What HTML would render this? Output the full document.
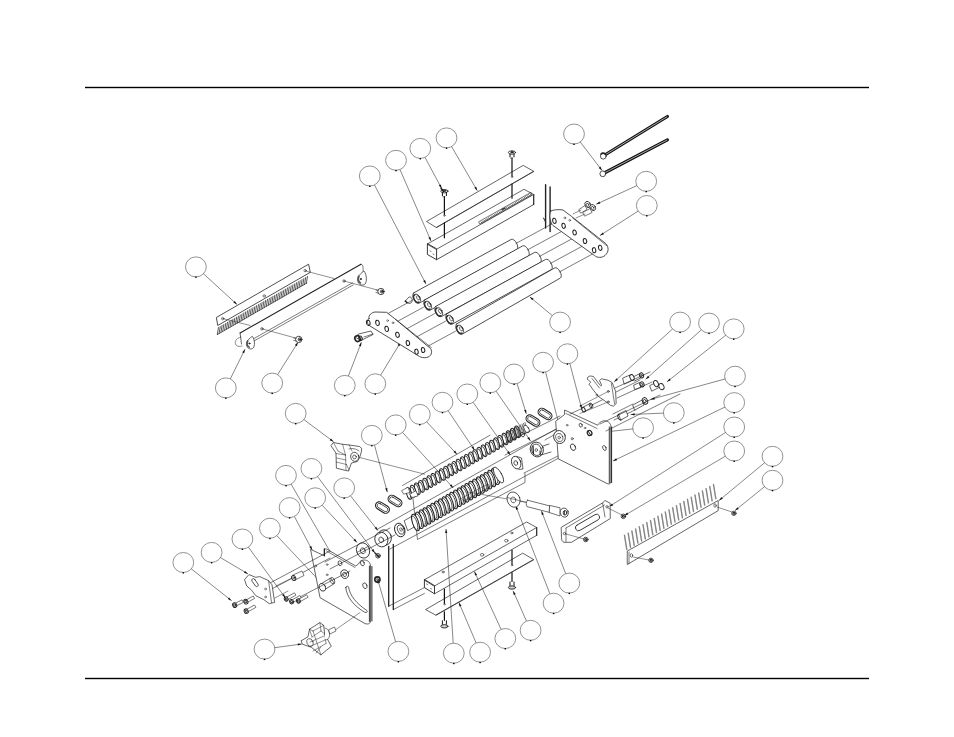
<!DOCTYPE html>
<html><head><meta charset="utf-8"><style>
html,body{margin:0;padding:0;background:#fff;width:954px;height:737px;overflow:hidden;font-family:"Liberation Sans",sans-serif}
svg{position:absolute;left:0;top:0}
.b ellipse{fill:none;stroke:#808080;stroke-width:0.85}
.b .ld{stroke:#555;stroke-width:0.7}
</style></head><body>
<svg width="954" height="737" viewBox="0 0 954 737">
<rect x="85" y="86.8" width="784" height="1.4" fill="#000"/>
<rect x="85" y="677.8" width="784" height="1.4" fill="#000"/>
<g class="b">
<ellipse cx="195.9" cy="266.9" rx="10.4" ry="10.0"/>
<rect x="195.2" y="276.5" width="1.4" height="1.4" fill="#000" stroke="none"/>
<line x1="203.4" y1="273.7" x2="237" y2="304.5" class="ld"/>
<polygon points="237,304.5 233.3,302.6 234.8,301" fill="#111" stroke="none"/>
<ellipse cx="369.8" cy="176" rx="10.4" ry="10.0"/>
<rect x="369.1" y="185.6" width="1.4" height="1.4" fill="#000" stroke="none"/>
<line x1="374.5" y1="185" x2="426" y2="284" class="ld"/>
<polygon points="426,284 423.2,281 425.1,279.9" fill="#111" stroke="none"/>
<ellipse cx="396" cy="160.3" rx="10.4" ry="10.0"/>
<rect x="395.3" y="169.9" width="1.4" height="1.4" fill="#000" stroke="none"/>
<line x1="400" y1="169.6" x2="431" y2="241" class="ld"/>
<polygon points="431,241 428.4,237.8 430.4,236.9" fill="#111" stroke="none"/>
<ellipse cx="420.3" cy="148.4" rx="10.4" ry="10.0"/>
<rect x="419.6" y="158" width="1.4" height="1.4" fill="#000" stroke="none"/>
<line x1="425" y1="157.3" x2="441.7" y2="188.6" class="ld"/>
<polygon points="441.7,188.6 438.8,185.6 440.8,184.6" fill="#111" stroke="none"/>
<ellipse cx="446.5" cy="137.9" rx="10.4" ry="10.0"/>
<rect x="445.8" y="147.5" width="1.4" height="1.4" fill="#000" stroke="none"/>
<line x1="451.6" y1="146.6" x2="477.3" y2="190.7" class="ld"/>
<polygon points="477.3,190.7 474.3,187.8 476.2,186.7" fill="#111" stroke="none"/>
<ellipse cx="574" cy="134" rx="10.4" ry="10.0"/>
<rect x="573.3" y="143.6" width="1.4" height="1.4" fill="#000" stroke="none"/>
<line x1="580.2" y1="142" x2="602" y2="170.4" class="ld"/>
<polygon points="602,170.4 598.7,167.9 600.4,166.6" fill="#111" stroke="none"/>
<ellipse cx="646.2" cy="181.3" rx="10.4" ry="10.0"/>
<rect x="645.5" y="190.9" width="1.4" height="1.4" fill="#000" stroke="none"/>
<line x1="637" y1="185.5" x2="596.2" y2="204.3" class="ld"/>
<polygon points="596.2,204.3 599.4,201.6 600.3,203.6" fill="#111" stroke="none"/>
<ellipse cx="646.8" cy="205.5" rx="10.4" ry="10.0"/>
<rect x="646.1" y="215.1" width="1.4" height="1.4" fill="#000" stroke="none"/>
<line x1="638.3" y1="211" x2="600" y2="235.5" class="ld"/>
<polygon points="600,235.5 602.8,232.4 604,234.3" fill="#111" stroke="none"/>
<ellipse cx="560.1" cy="322.1" rx="10.4" ry="10.0"/>
<rect x="559.4" y="331.7" width="1.4" height="1.4" fill="#000" stroke="none"/>
<line x1="552.3" y1="315.6" x2="529.8" y2="296.9" class="ld"/>
<polygon points="529.8,296.9 533.6,298.6 532.2,300.3" fill="#111" stroke="none"/>
<ellipse cx="225.8" cy="387.9" rx="10.4" ry="10.0"/>
<rect x="225.1" y="397.5" width="1.4" height="1.4" fill="#000" stroke="none"/>
<line x1="230.3" y1="378.9" x2="245" y2="349.2" class="ld"/>
<polygon points="245,349.2 244.2,353.3 242.2,352.3" fill="#111" stroke="none"/>
<ellipse cx="272.2" cy="383.1" rx="10.4" ry="10.0"/>
<rect x="271.5" y="392.7" width="1.4" height="1.4" fill="#000" stroke="none"/>
<line x1="277.6" y1="374.6" x2="298" y2="342.3" class="ld"/>
<polygon points="298,342.3 296.8,346.3 294.9,345.1" fill="#111" stroke="none"/>
<ellipse cx="344.8" cy="385.4" rx="10.4" ry="10.0"/>
<rect x="344.1" y="395" width="1.4" height="1.4" fill="#000" stroke="none"/>
<line x1="348.4" y1="376" x2="361.4" y2="342.3" class="ld"/>
<polygon points="361.4,342.3 361,346.4 358.9,345.6" fill="#111" stroke="none"/>
<ellipse cx="375.3" cy="383.8" rx="10.4" ry="10.0"/>
<rect x="374.6" y="393.4" width="1.4" height="1.4" fill="#000" stroke="none"/>
<line x1="380.6" y1="375.2" x2="400.6" y2="342.3" class="ld"/>
<polygon points="400.6,342.3 399.5,346.3 397.6,345.1" fill="#111" stroke="none"/>
<ellipse cx="680.1" cy="322.1" rx="10.4" ry="10.0"/>
<rect x="679.4" y="331.7" width="1.4" height="1.4" fill="#000" stroke="none"/>
<line x1="672.6" y1="328.9" x2="614.2" y2="381.8" class="ld"/>
<polygon points="614.2,381.8 616.4,378.3 617.9,379.9" fill="#111" stroke="none"/>
<ellipse cx="709" cy="323.1" rx="10.4" ry="10.0"/>
<rect x="708.3" y="332.7" width="1.4" height="1.4" fill="#000" stroke="none"/>
<line x1="701.4" y1="329.8" x2="645.7" y2="379.2" class="ld"/>
<polygon points="645.7,379.2 648,375.7 649.4,377.4" fill="#111" stroke="none"/>
<ellipse cx="733.7" cy="328.9" rx="10.4" ry="10.0"/>
<rect x="733" y="338.5" width="1.4" height="1.4" fill="#000" stroke="none"/>
<line x1="725.8" y1="335.2" x2="667" y2="381.8" class="ld"/>
<polygon points="667,381.8 669.5,378.5 670.8,380.2" fill="#111" stroke="none"/>
<ellipse cx="567.4" cy="353.8" rx="10.4" ry="10.0"/>
<rect x="566.7" y="363.4" width="1.4" height="1.4" fill="#000" stroke="none"/>
<line x1="569.9" y1="363.6" x2="581.7" y2="408.8" class="ld"/>
<polygon points="581.7,408.8 579.6,405.2 581.8,404.7" fill="#111" stroke="none"/>
<ellipse cx="543.1" cy="362.3" rx="10.4" ry="10.0"/>
<rect x="542.4" y="371.9" width="1.4" height="1.4" fill="#000" stroke="none"/>
<line x1="545.6" y1="372.1" x2="559.9" y2="428" class="ld"/>
<polygon points="559.9,428 557.8,424.4 560,423.9" fill="#111" stroke="none"/>
<ellipse cx="735" cy="376.2" rx="10.4" ry="10.0"/>
<rect x="734.3" y="385.8" width="1.4" height="1.4" fill="#000" stroke="none"/>
<line x1="725.3" y1="378.9" x2="650.7" y2="399.4" class="ld"/>
<polygon points="650.7,399.4 654.3,397.3 654.8,399.4" fill="#111" stroke="none"/>
<ellipse cx="734.2" cy="402.6" rx="10.4" ry="10.0"/>
<rect x="733.5" y="412.2" width="1.4" height="1.4" fill="#000" stroke="none"/>
<line x1="725.1" y1="407" x2="613" y2="461" class="ld"/>
<polygon points="613,461 616.1,458.3 617.1,460.3" fill="#111" stroke="none"/>
<ellipse cx="673.8" cy="412.7" rx="10.4" ry="10.0"/>
<rect x="673.1" y="422.3" width="1.4" height="1.4" fill="#000" stroke="none"/>
<line x1="663.7" y1="413.1" x2="630.6" y2="414.5" class="ld"/>
<polygon points="630.6,414.5 634.6,413.2 634.6,415.4" fill="#111" stroke="none"/>
<ellipse cx="734.2" cy="427" rx="10.4" ry="10.0"/>
<rect x="733.5" y="436.6" width="1.4" height="1.4" fill="#000" stroke="none"/>
<line x1="725.7" y1="432.4" x2="609.2" y2="506.6" class="ld"/>
<polygon points="609.2,506.6 612,503.5 613.2,505.4" fill="#111" stroke="none"/>
<ellipse cx="643.1" cy="427.8" rx="10.4" ry="10.0"/>
<rect x="642.4" y="437.4" width="1.4" height="1.4" fill="#000" stroke="none"/>
<line x1="633.1" y1="428.9" x2="592.8" y2="433.3" class="ld"/>
<polygon points="592.8,433.3 596.7,431.8 596.9,434" fill="#111" stroke="none"/>
<ellipse cx="734.2" cy="451" rx="10.4" ry="10.0"/>
<rect x="733.5" y="460.6" width="1.4" height="1.4" fill="#000" stroke="none"/>
<line x1="725.5" y1="456.1" x2="624.3" y2="515.6" class="ld"/>
<polygon points="624.3,515.6 627.2,512.6 628.3,514.5" fill="#111" stroke="none"/>
<ellipse cx="772.5" cy="456.3" rx="10.4" ry="10.0"/>
<rect x="771.8" y="465.9" width="1.4" height="1.4" fill="#000" stroke="none"/>
<line x1="764.7" y1="462.7" x2="719" y2="500.5" class="ld"/>
<polygon points="719,500.5 721.4,497.1 722.8,498.8" fill="#111" stroke="none"/>
<ellipse cx="772.5" cy="480.3" rx="10.4" ry="10.0"/>
<rect x="771.8" y="489.9" width="1.4" height="1.4" fill="#000" stroke="none"/>
<line x1="764.6" y1="486.6" x2="735" y2="510.6" class="ld"/>
<polygon points="735,510.6 737.4,507.2 738.8,508.9" fill="#111" stroke="none"/>
<ellipse cx="295.7" cy="413.4" rx="10.4" ry="10.0"/>
<rect x="295" y="423" width="1.4" height="1.4" fill="#000" stroke="none"/>
<line x1="303.8" y1="419.5" x2="333.5" y2="441.7" class="ld"/>
<polygon points="333.5,441.7 329.6,440.2 331,438.4" fill="#111" stroke="none"/>
<ellipse cx="371.8" cy="435.4" rx="10.4" ry="10.0"/>
<rect x="371.1" y="445" width="1.4" height="1.4" fill="#000" stroke="none"/>
<line x1="374.5" y1="445.1" x2="387.3" y2="492.2" class="ld"/>
<polygon points="387.3,492.2 385.2,488.6 387.3,488.1" fill="#111" stroke="none"/>
<ellipse cx="395.7" cy="424.9" rx="10.4" ry="10.0"/>
<rect x="395" y="434.5" width="1.4" height="1.4" fill="#000" stroke="none"/>
<line x1="402.5" y1="432.4" x2="453.3" y2="488" class="ld"/>
<polygon points="453.3,488 449.8,485.8 451.4,484.3" fill="#111" stroke="none"/>
<ellipse cx="419.8" cy="414.4" rx="10.4" ry="10.0"/>
<rect x="419.1" y="424" width="1.4" height="1.4" fill="#000" stroke="none"/>
<line x1="426.7" y1="421.8" x2="457" y2="454.3" class="ld"/>
<polygon points="457,454.3 453.5,452.1 455.1,450.6" fill="#111" stroke="none"/>
<ellipse cx="442.5" cy="402.3" rx="10.4" ry="10.0"/>
<rect x="441.8" y="411.9" width="1.4" height="1.4" fill="#000" stroke="none"/>
<line x1="448.1" y1="410.7" x2="474.6" y2="450.2" class="ld"/>
<polygon points="474.6,450.2 471.5,447.5 473.3,446.3" fill="#111" stroke="none"/>
<ellipse cx="467.3" cy="394" rx="10.4" ry="10.0"/>
<rect x="466.6" y="403.6" width="1.4" height="1.4" fill="#000" stroke="none"/>
<line x1="473.1" y1="402.3" x2="510.3" y2="455" class="ld"/>
<polygon points="510.3,455 507.1,452.4 508.9,451.1" fill="#111" stroke="none"/>
<ellipse cx="490.3" cy="382.8" rx="10.4" ry="10.0"/>
<rect x="489.6" y="392.4" width="1.4" height="1.4" fill="#000" stroke="none"/>
<line x1="496" y1="391.1" x2="530.5" y2="440.9" class="ld"/>
<polygon points="530.5,440.9 527.3,438.2 529.1,437" fill="#111" stroke="none"/>
<ellipse cx="514.1" cy="374" rx="10.4" ry="10.0"/>
<rect x="513.4" y="383.6" width="1.4" height="1.4" fill="#000" stroke="none"/>
<line x1="517.1" y1="383.7" x2="526.3" y2="413.8" class="ld"/>
<polygon points="526.3,413.8 524.1,410.3 526.2,409.7" fill="#111" stroke="none"/>
<ellipse cx="311.4" cy="468.5" rx="10.4" ry="10.0"/>
<rect x="310.7" y="478.1" width="1.4" height="1.4" fill="#000" stroke="none"/>
<line x1="317.5" y1="476.6" x2="374.9" y2="553" class="ld"/>
<polygon points="374.9,553 371.6,550.5 373.4,549.1" fill="#111" stroke="none"/>
<ellipse cx="286" cy="475.4" rx="10.4" ry="10.0"/>
<rect x="285.3" y="485" width="1.4" height="1.4" fill="#000" stroke="none"/>
<line x1="291.1" y1="484.1" x2="342.1" y2="572.4" class="ld"/>
<polygon points="342.1,572.4 339.1,569.5 341,568.4" fill="#111" stroke="none"/>
<ellipse cx="315.2" cy="497.8" rx="10.4" ry="10.0"/>
<rect x="314.5" y="507.4" width="1.4" height="1.4" fill="#000" stroke="none"/>
<line x1="322.1" y1="505.2" x2="357" y2="542.5" class="ld"/>
<polygon points="357,542.5 353.5,540.3 355.1,538.8" fill="#111" stroke="none"/>
<ellipse cx="344.2" cy="487.9" rx="10.4" ry="10.0"/>
<rect x="343.5" y="497.5" width="1.4" height="1.4" fill="#000" stroke="none"/>
<line x1="350.5" y1="495.8" x2="377.9" y2="530.6" class="ld"/>
<polygon points="377.9,530.6 374.6,528.1 376.3,526.8" fill="#111" stroke="none"/>
<ellipse cx="289.6" cy="507.6" rx="10.4" ry="10.0"/>
<rect x="288.9" y="517.2" width="1.4" height="1.4" fill="#000" stroke="none"/>
<line x1="294.4" y1="516.5" x2="312.2" y2="550" class="ld"/>
<polygon points="312.2,550 309.3,547 311.3,546" fill="#111" stroke="none"/>
<ellipse cx="269.9" cy="528.2" rx="10.4" ry="10.0"/>
<rect x="269.2" y="537.8" width="1.4" height="1.4" fill="#000" stroke="none"/>
<line x1="276.8" y1="535.6" x2="321.2" y2="582.8" class="ld"/>
<polygon points="321.2,582.8 317.7,580.6 319.3,579.1" fill="#111" stroke="none"/>
<ellipse cx="242.4" cy="539" rx="10.4" ry="10.0"/>
<rect x="241.7" y="548.6" width="1.4" height="1.4" fill="#000" stroke="none"/>
<line x1="248.4" y1="547.2" x2="285.4" y2="597.8" class="ld"/>
<polygon points="285.4,597.8 282.2,595.2 283.9,593.9" fill="#111" stroke="none"/>
<ellipse cx="211.6" cy="552.4" rx="10.4" ry="10.0"/>
<rect x="210.9" y="562" width="1.4" height="1.4" fill="#000" stroke="none"/>
<line x1="220.3" y1="557.5" x2="248" y2="573.9" class="ld"/>
<polygon points="248,573.9 244,572.8 245.1,570.9" fill="#111" stroke="none"/>
<ellipse cx="183.3" cy="562.5" rx="10.4" ry="10.0"/>
<rect x="182.6" y="572.1" width="1.4" height="1.4" fill="#000" stroke="none"/>
<line x1="191.2" y1="568.8" x2="231.6" y2="600.7" class="ld"/>
<polygon points="231.6,600.7 227.8,599.1 229.1,597.4" fill="#111" stroke="none"/>
<ellipse cx="264.5" cy="649.1" rx="10.4" ry="10.0"/>
<rect x="263.8" y="658.7" width="1.4" height="1.4" fill="#000" stroke="none"/>
<line x1="274.5" y1="647.7" x2="301.8" y2="644" class="ld"/>
<polygon points="301.8,644 298,645.6 297.7,643.5" fill="#111" stroke="none"/>
<ellipse cx="398.4" cy="651.4" rx="10.4" ry="10.0"/>
<rect x="397.7" y="661" width="1.4" height="1.4" fill="#000" stroke="none"/>
<line x1="395.6" y1="641.7" x2="377.7" y2="579.3" class="ld"/>
<polygon points="377.7,579.3 379.9,582.8 377.7,583.4" fill="#111" stroke="none"/>
<ellipse cx="453.8" cy="653.2" rx="10.4" ry="10.0"/>
<rect x="453.1" y="662.8" width="1.4" height="1.4" fill="#000" stroke="none"/>
<line x1="453.2" y1="643.1" x2="446" y2="529" class="ld"/>
<polygon points="446,529 447.3,532.9 445.2,533.1" fill="#111" stroke="none"/>
<ellipse cx="480.1" cy="652.2" rx="10.4" ry="10.0"/>
<rect x="479.4" y="661.8" width="1.4" height="1.4" fill="#000" stroke="none"/>
<line x1="476.1" y1="642.9" x2="458.9" y2="602.5" class="ld"/>
<polygon points="458.9,602.5 461.5,605.7 459.5,606.6" fill="#111" stroke="none"/>
<ellipse cx="505.3" cy="638.5" rx="10.4" ry="10.0"/>
<rect x="504.6" y="648.1" width="1.4" height="1.4" fill="#000" stroke="none"/>
<line x1="501.1" y1="629.3" x2="474.4" y2="571.5" class="ld"/>
<polygon points="474.4,571.5 477.1,574.7 475.1,575.6" fill="#111" stroke="none"/>
<ellipse cx="530.6" cy="630.3" rx="10.4" ry="10.0"/>
<rect x="529.9" y="639.9" width="1.4" height="1.4" fill="#000" stroke="none"/>
<line x1="526.5" y1="621.1" x2="513.1" y2="590.9" class="ld"/>
<polygon points="513.1,590.9 515.7,594.1 513.7,595" fill="#111" stroke="none"/>
<ellipse cx="553.6" cy="603.2" rx="10.4" ry="10.0"/>
<rect x="552.9" y="612.8" width="1.4" height="1.4" fill="#000" stroke="none"/>
<line x1="549.9" y1="593.8" x2="515.7" y2="505.8" class="ld"/>
<polygon points="515.7,505.8 518.2,509.1 516.1,509.9" fill="#111" stroke="none"/>
<ellipse cx="569.3" cy="583.1" rx="10.4" ry="10.0"/>
<rect x="568.6" y="592.7" width="1.4" height="1.4" fill="#000" stroke="none"/>
<line x1="565.7" y1="573.7" x2="541.4" y2="510.9" class="ld"/>
<polygon points="541.4,510.9 543.9,514.2 541.8,515" fill="#111" stroke="none"/>
</g>
<g fill="none" stroke="#222" stroke-width="0.8" stroke-linejoin="round" stroke-linecap="round">
<polygon points="216.7,317.3 308.6,264.2 310.3,272.3 218.1,325.3"/>
<line x1="218.5" y1="327.5" x2="217.3" y2="334.5" stroke-width="0.75"/>
<line x1="220.3" y1="326.5" x2="219.1" y2="333.5" stroke-width="0.75"/>
<line x1="222.1" y1="325.4" x2="220.9" y2="332.4" stroke-width="0.75"/>
<line x1="223.9" y1="324.4" x2="222.7" y2="331.4" stroke-width="0.75"/>
<line x1="225.8" y1="323.3" x2="224.6" y2="330.3" stroke-width="0.75"/>
<line x1="227.6" y1="322.3" x2="226.4" y2="329.3" stroke-width="0.75"/>
<line x1="229.4" y1="321.3" x2="228.2" y2="328.3" stroke-width="0.75"/>
<line x1="231.2" y1="320.2" x2="230.0" y2="327.2" stroke-width="0.75"/>
<line x1="233.0" y1="319.2" x2="231.8" y2="326.2" stroke-width="0.75"/>
<line x1="234.8" y1="318.1" x2="233.6" y2="325.1" stroke-width="0.75"/>
<line x1="236.7" y1="317.1" x2="235.5" y2="324.1" stroke-width="0.75"/>
<line x1="238.5" y1="316.1" x2="237.3" y2="323.1" stroke-width="0.75"/>
<line x1="240.3" y1="315.0" x2="239.1" y2="322.0" stroke-width="0.75"/>
<line x1="242.1" y1="314.0" x2="240.9" y2="321.0" stroke-width="0.75"/>
<line x1="243.9" y1="312.9" x2="242.7" y2="319.9" stroke-width="0.75"/>
<line x1="245.7" y1="311.9" x2="244.5" y2="318.9" stroke-width="0.75"/>
<line x1="247.6" y1="310.8" x2="246.4" y2="317.8" stroke-width="0.75"/>
<line x1="249.4" y1="309.8" x2="248.2" y2="316.8" stroke-width="0.75"/>
<line x1="251.2" y1="308.8" x2="250.0" y2="315.8" stroke-width="0.75"/>
<line x1="253.0" y1="307.7" x2="251.8" y2="314.7" stroke-width="0.75"/>
<line x1="254.8" y1="306.7" x2="253.6" y2="313.7" stroke-width="0.75"/>
<line x1="256.6" y1="305.6" x2="255.4" y2="312.6" stroke-width="0.75"/>
<line x1="258.5" y1="304.6" x2="257.3" y2="311.6" stroke-width="0.75"/>
<line x1="260.3" y1="303.6" x2="259.1" y2="310.6" stroke-width="0.75"/>
<line x1="262.1" y1="302.5" x2="260.9" y2="309.5" stroke-width="0.75"/>
<line x1="263.9" y1="301.5" x2="262.7" y2="308.5" stroke-width="0.75"/>
<line x1="265.7" y1="300.4" x2="264.5" y2="307.4" stroke-width="0.75"/>
<line x1="267.5" y1="299.4" x2="266.3" y2="306.4" stroke-width="0.75"/>
<line x1="269.4" y1="298.4" x2="268.2" y2="305.4" stroke-width="0.75"/>
<line x1="271.2" y1="297.3" x2="270.0" y2="304.3" stroke-width="0.75"/>
<line x1="273.0" y1="296.3" x2="271.8" y2="303.3" stroke-width="0.75"/>
<line x1="274.8" y1="295.2" x2="273.6" y2="302.2" stroke-width="0.75"/>
<line x1="276.6" y1="294.2" x2="275.4" y2="301.2" stroke-width="0.75"/>
<line x1="278.4" y1="293.2" x2="277.2" y2="300.2" stroke-width="0.75"/>
<line x1="280.3" y1="292.1" x2="279.1" y2="299.1" stroke-width="0.75"/>
<line x1="282.1" y1="291.1" x2="280.9" y2="298.1" stroke-width="0.75"/>
<line x1="283.9" y1="290.0" x2="282.7" y2="297.0" stroke-width="0.75"/>
<line x1="285.7" y1="289.0" x2="284.5" y2="296.0" stroke-width="0.75"/>
<line x1="287.5" y1="287.9" x2="286.3" y2="294.9" stroke-width="0.75"/>
<line x1="289.3" y1="286.9" x2="288.1" y2="293.9" stroke-width="0.75"/>
<line x1="291.2" y1="285.9" x2="290.0" y2="292.9" stroke-width="0.75"/>
<line x1="293.0" y1="284.8" x2="291.8" y2="291.8" stroke-width="0.75"/>
<line x1="294.8" y1="283.8" x2="293.6" y2="290.8" stroke-width="0.75"/>
<line x1="296.6" y1="282.7" x2="295.4" y2="289.7" stroke-width="0.75"/>
<line x1="298.4" y1="281.7" x2="297.2" y2="288.7" stroke-width="0.75"/>
<line x1="300.2" y1="280.7" x2="299.0" y2="287.7" stroke-width="0.75"/>
<line x1="302.1" y1="279.6" x2="300.9" y2="286.6" stroke-width="0.75"/>
<line x1="303.9" y1="278.6" x2="302.7" y2="285.6" stroke-width="0.75"/>
<line x1="305.7" y1="277.5" x2="304.5" y2="284.5" stroke-width="0.75"/>
<line x1="307.5" y1="276.5" x2="306.3" y2="283.5" stroke-width="0.75"/>
<line x1="217.5" y1="334.5" x2="306.9" y2="283.0" stroke-width="0.6"/>
<circle cx="222.7" cy="318.6" r="1.2" stroke-width="0.6"/>
<circle cx="264.2" cy="295.9" r="1.2" stroke-width="0.6"/>
<circle cx="305.1" cy="270.6" r="1.2" stroke-width="0.6"/>
<line x1="240.1" y1="333.0" x2="361.0" y2="264.3" stroke-width="1.1"/>
<path d="M361,264.3 C362.5,264.5 363,265.5 363,267.5 L363.2,272" stroke-width="0.6"/>
<line x1="240.1" y1="333.0" x2="241.5" y2="344.0" stroke-width="0.7"/>
<line x1="253.8" y1="338.6" x2="352.4" y2="282.9" stroke-width="0.6"/>
<line x1="254.3" y1="340.8" x2="353.3" y2="284.9" stroke-width="0.6"/>
<path d="M247.3,340.8 C249.6,338.1 252.3,336.3 252.3,336.3 C255.0,339.9 255.0,346.2 253.2,348.0 C251.4,349.8 247.8,348.9 246.9,346.2 C246.0,344.4 246.4,341.7 247.3,340.8 Z" fill="#fff" stroke-width="0.7"/>
<path d="M247.8,341.2 C246.4,343.5 247.3,346.2 249.2,347.1" stroke-width="1.6" stroke="#555"/>
<circle cx="249.4" cy="343.5" r="0.6" fill="#000"/>
<path d="M358.5,276.0 C361.0,273.0 364.0,271.0 364.0,271.0 C367.0,275.0 367.0,282.0 365.0,284.0 C363.0,286.0 359.0,285.0 358.0,282.0 C357.0,280.0 357.5,277.0 358.5,276.0 Z" fill="#fff" stroke-width="0.7"/>
<path d="M359.0,276.5 C357.5,279.0 358.5,282.0 360.5,283.0" stroke-width="1.6" stroke="#555"/>
<circle cx="360.8" cy="279.0" r="0.6" fill="#000"/>
<path d="M241,337 C236,338 234,342 236,345 C238,347 240,346.5 242,346" stroke-width="0.5"/>
<circle cx="261.9" cy="328.8" r="1.2" stroke-width="0.6"/>
<circle cx="344.0" cy="281.0" r="1.2" stroke-width="0.6"/>
<line x1="261.9" y1="328.8" x2="298.8" y2="338.9" stroke-width="0.5"/>
<line x1="344.0" y1="281.0" x2="381.0" y2="291.0" stroke-width="0.5"/>
<line x1="305.5" y1="271.0" x2="334.0" y2="278.5" stroke-width="0.5"/>
<line x1="222.7" y1="318.6" x2="250.0" y2="325.4" stroke-width="0.5"/>
<circle cx="298.8" cy="339.4" r="3.2" stroke-width="0.8" fill="#fff"/>
<circle cx="299.7" cy="339.4" r="1.5" stroke-width="0.9"/>
<circle cx="299.9" cy="339.4" r="0.6" stroke-width="0.6" fill="#000"/>
<line x1="295.8" y1="338.4" x2="293.8" y2="337.9" stroke-width="0.6"/>
<line x1="295.8" y1="340.9" x2="293.8" y2="340.4" stroke-width="0.6"/>
<circle cx="381.0" cy="291.5" r="3.2" stroke-width="0.8" fill="#fff"/>
<circle cx="381.9" cy="291.5" r="1.5" stroke-width="0.9"/>
<circle cx="382.1" cy="291.5" r="0.6" stroke-width="0.6" fill="#000"/>
<line x1="378.0" y1="290.5" x2="376.0" y2="290.0" stroke-width="0.6"/>
<line x1="378.0" y1="293.0" x2="376.0" y2="292.5" stroke-width="0.6"/>
<polygon points="426.9,221.3 523.2,165.4 533.7,171.3 436.6,227.3" stroke-width="0.7"/>
<line x1="436.6" y1="227.5" x2="533.7" y2="171.5" stroke-width="0.8" stroke="#333"/>
<ellipse cx="444.4" cy="191.2" rx="3.6" ry="1.7" transform="rotate(0.0 444.4 191.2)" stroke-width="0.9" fill="#fff"/>
<ellipse cx="444.4" cy="190.9" rx="1.3" ry="0.7" transform="rotate(0.0 444.4 190.9)" stroke-width="0.8" fill="#222"/>
<line x1="442.4" y1="192.8" x2="442.4" y2="195.6" stroke-width="1.0" stroke="#111"/>
<line x1="446.4" y1="192.8" x2="446.4" y2="195.6" stroke-width="1.0" stroke="#111"/>
<line x1="442.8" y1="196.7" x2="444.9" y2="196.7" stroke-width="0.6"/>
<line x1="444.4" y1="196.7" x2="444.4" y2="214.6" stroke-width="1.2" stroke="#111"/>
<line x1="444.4" y1="222.8" x2="444.4" y2="237.8" stroke-width="1.2" stroke="#111"/>
<circle cx="444.4" cy="215.6" r="0.8" stroke-width="0.5"/>
<ellipse cx="512.0" cy="152.5" rx="3.6" ry="1.7" transform="rotate(0.0 512.0 152.5)" stroke-width="0.9" fill="#fff"/>
<ellipse cx="512.0" cy="152.2" rx="1.3" ry="0.7" transform="rotate(0.0 512.0 152.2)" stroke-width="0.8" fill="#222"/>
<line x1="510.0" y1="154.1" x2="510.0" y2="156.9" stroke-width="1.0" stroke="#111"/>
<line x1="514.0" y1="154.1" x2="514.0" y2="156.9" stroke-width="1.0" stroke="#111"/>
<line x1="510.4" y1="158.0" x2="512.5" y2="158.0" stroke-width="0.6"/>
<line x1="512.0" y1="158.0" x2="512.0" y2="175.8" stroke-width="1.2" stroke="#111"/>
<line x1="512.0" y1="184.0" x2="512.0" y2="198.2" stroke-width="1.2" stroke="#111"/>
<circle cx="512.0" cy="176.8" r="0.8" stroke-width="0.5"/>
<line x1="441.2" y1="188.4" x2="443.5" y2="191.5" stroke-width="1.6"/>
<polygon points="427.4,244.0 524.0,189.3 533.7,194.5 436.6,249.2" stroke-width="0.7"/>
<polygon points="427.4,244.0 427.4,254.5 436.6,259.7 436.6,249.2" stroke-width="0.9"/>
<line x1="436.6" y1="259.7" x2="533.7" y2="204.5" stroke-width="0.8"/>
<line x1="533.7" y1="194.5" x2="533.7" y2="204.5" stroke-width="1.2"/>
<line x1="430.0" y1="251.0" x2="431.0" y2="251.5" stroke-width="0.6"/>
<line x1="433.0" y1="254.0" x2="434.0" y2="254.5" stroke-width="0.6"/>
<polygon points="479.0,221.6 531.0,192.3 532.0,194.6 480.0,223.8" stroke-width="0.6"/>
<line x1="481.0" y1="221.8" x2="482.2" y2="223.4" stroke-width="0.6"/>
<line x1="482.5" y1="220.9" x2="483.7" y2="222.5" stroke-width="0.6"/>
<line x1="484.0" y1="220.1" x2="485.2" y2="221.7" stroke-width="0.6"/>
<line x1="485.5" y1="219.2" x2="486.7" y2="220.8" stroke-width="0.6"/>
<line x1="486.9" y1="218.4" x2="488.1" y2="220.0" stroke-width="0.6"/>
<line x1="488.4" y1="217.5" x2="489.6" y2="219.1" stroke-width="0.6"/>
<line x1="489.9" y1="216.7" x2="491.1" y2="218.3" stroke-width="0.6"/>
<line x1="491.4" y1="215.8" x2="492.6" y2="217.4" stroke-width="0.6"/>
<line x1="492.9" y1="215.0" x2="494.1" y2="216.6" stroke-width="0.6"/>
<line x1="494.4" y1="214.1" x2="495.6" y2="215.7" stroke-width="0.6"/>
<line x1="495.8" y1="213.3" x2="497.0" y2="214.9" stroke-width="0.6"/>
<line x1="497.3" y1="212.4" x2="498.5" y2="214.0" stroke-width="0.6"/>
<line x1="498.8" y1="211.5" x2="500.0" y2="213.1" stroke-width="0.6"/>
<line x1="500.3" y1="210.7" x2="501.5" y2="212.3" stroke-width="0.6"/>
<line x1="501.8" y1="209.8" x2="503.0" y2="211.4" stroke-width="0.6"/>
<line x1="503.3" y1="209.0" x2="504.5" y2="210.6" stroke-width="0.6"/>
<line x1="504.8" y1="208.1" x2="506.0" y2="209.7" stroke-width="0.6"/>
<line x1="506.2" y1="207.3" x2="507.4" y2="208.9" stroke-width="0.6"/>
<line x1="507.7" y1="206.4" x2="508.9" y2="208.0" stroke-width="0.6"/>
<line x1="509.2" y1="205.6" x2="510.4" y2="207.2" stroke-width="0.6"/>
<line x1="510.7" y1="204.7" x2="511.9" y2="206.3" stroke-width="0.6"/>
<line x1="512.2" y1="203.9" x2="513.4" y2="205.5" stroke-width="0.6"/>
<line x1="513.7" y1="203.0" x2="514.9" y2="204.6" stroke-width="0.6"/>
<line x1="515.2" y1="202.1" x2="516.4" y2="203.7" stroke-width="0.6"/>
<line x1="516.6" y1="201.3" x2="517.8" y2="202.9" stroke-width="0.6"/>
<line x1="518.1" y1="200.4" x2="519.3" y2="202.0" stroke-width="0.6"/>
<line x1="519.6" y1="199.6" x2="520.8" y2="201.2" stroke-width="0.6"/>
<line x1="521.1" y1="198.7" x2="522.3" y2="200.3" stroke-width="0.6"/>
<line x1="522.6" y1="197.9" x2="523.8" y2="199.5" stroke-width="0.6"/>
<line x1="524.1" y1="197.0" x2="525.3" y2="198.6" stroke-width="0.6"/>
<line x1="525.5" y1="196.2" x2="526.7" y2="197.8" stroke-width="0.6"/>
<line x1="527.0" y1="195.3" x2="528.2" y2="196.9" stroke-width="0.6"/>
<line x1="528.5" y1="194.5" x2="529.7" y2="196.1" stroke-width="0.6"/>
<line x1="530.0" y1="193.6" x2="531.2" y2="195.2" stroke-width="0.6"/>
<line x1="502.0" y1="209.5" x2="505.0" y2="208.0" stroke-width="1.2"/>
<line x1="545.6" y1="184.8" x2="545.6" y2="228.0" stroke-width="1.4"/>
<line x1="550.1" y1="187.0" x2="550.1" y2="231.5" stroke-width="1.4"/>
<line x1="543.5" y1="218.0" x2="545.6" y2="222.0" stroke-width="1.0"/>
<path d="M413.7,292.9 L511.2,239.4 A5.8,2.9 61.5 0 1 516.8,249.6 L419.3,303.1 A5.8,2.9 61.5 0 1 413.7,292.9 Z" fill="#fff"/>
<ellipse cx="417.1" cy="298.3" rx="3.0" ry="4.6" transform="rotate(-28.5 417.1 298.3)" stroke-width="0.7"/>
<path d="M0,-4.3 A2.8,4.3 0 0 0 0,4.3" transform="translate(416.8 298.5) rotate(-28.5)" stroke-width="1.5" stroke="#333"/>
<ellipse cx="418.1" cy="297.8" rx="1.3" ry="2.4" transform="rotate(-28.5 418.1 297.8)" stroke-width="0.6"/>
<path d="M424.7,299.9 L522.7,245.9 A5.8,2.9 61.5 0 1 528.3,256.1 L430.3,310.1 A5.8,2.9 61.5 0 1 424.7,299.9 Z" fill="#fff"/>
<ellipse cx="428.1" cy="305.3" rx="3.0" ry="4.6" transform="rotate(-28.5 428.1 305.3)" stroke-width="0.7"/>
<path d="M0,-4.3 A2.8,4.3 0 0 0 0,4.3" transform="translate(427.8 305.5) rotate(-28.5)" stroke-width="1.5" stroke="#333"/>
<ellipse cx="429.1" cy="304.8" rx="1.3" ry="2.4" transform="rotate(-28.5 429.1 304.8)" stroke-width="0.6"/>
<path d="M435.7,306.4 L534.7,252.4 A5.8,2.9 61.5 0 1 540.3,262.6 L441.3,316.6 A5.8,2.9 61.5 0 1 435.7,306.4 Z" fill="#fff"/>
<ellipse cx="439.1" cy="311.8" rx="3.0" ry="4.6" transform="rotate(-28.5 439.1 311.8)" stroke-width="0.7"/>
<path d="M0,-4.3 A2.8,4.3 0 0 0 0,4.3" transform="translate(438.8 312.0) rotate(-28.5)" stroke-width="1.5" stroke="#333"/>
<ellipse cx="440.1" cy="311.3" rx="1.3" ry="2.4" transform="rotate(-28.5 440.1 311.3)" stroke-width="0.6"/>
<path d="M446.7,313.9 L545.7,259.4 A5.8,2.9 61.5 0 1 551.3,269.6 L452.3,324.1 A5.8,2.9 61.5 0 1 446.7,313.9 Z" fill="#fff"/>
<ellipse cx="450.1" cy="319.3" rx="3.0" ry="4.6" transform="rotate(-28.5 450.1 319.3)" stroke-width="0.7"/>
<path d="M0,-4.3 A2.8,4.3 0 0 0 0,4.3" transform="translate(449.8 319.5) rotate(-28.5)" stroke-width="1.5" stroke="#333"/>
<ellipse cx="451.1" cy="318.8" rx="1.3" ry="2.4" transform="rotate(-28.5 451.1 318.8)" stroke-width="0.6"/>
<path d="M456.7,323.9 L554.7,267.9 A5.8,2.9 61.5 0 1 560.3,278.1 L462.3,334.1 A5.8,2.9 61.5 0 1 456.7,323.9 Z" fill="#fff"/>
<ellipse cx="460.1" cy="329.3" rx="3.0" ry="4.6" transform="rotate(-28.5 460.1 329.3)" stroke-width="0.7"/>
<path d="M0,-4.3 A2.8,4.3 0 0 0 0,4.3" transform="translate(459.8 329.5) rotate(-28.5)" stroke-width="1.5" stroke="#333"/>
<ellipse cx="461.1" cy="328.8" rx="1.3" ry="2.4" transform="rotate(-28.5 461.1 328.8)" stroke-width="0.6"/>
<path d="M405.3,301 L409,297 C411.5,296.5 412.5,299 412,301.5 C411.5,303.5 409,304 407.5,303 Z" fill="#fff" stroke-width="0.7"/>
<line x1="405.3" y1="301.0" x2="407.0" y2="302.5" stroke-width="1.4"/>
<line x1="412.5" y1="300.2" x2="376.5" y2="319.8" stroke-width="0.6"/>
<line x1="516.0" y1="243.4" x2="554.0" y2="222.8" stroke-width="0.6"/>
<line x1="423.5" y1="307.2" x2="387.5" y2="326.8" stroke-width="0.6"/>
<line x1="527.5" y1="249.9" x2="565.5" y2="229.3" stroke-width="0.6"/>
<line x1="434.5" y1="313.7" x2="398.5" y2="333.3" stroke-width="0.6"/>
<line x1="539.5" y1="256.4" x2="577.5" y2="235.8" stroke-width="0.6"/>
<line x1="445.5" y1="321.2" x2="409.5" y2="340.8" stroke-width="0.6"/>
<line x1="550.5" y1="263.4" x2="588.5" y2="242.8" stroke-width="0.6"/>
<line x1="455.5" y1="331.2" x2="419.5" y2="350.8" stroke-width="0.6"/>
<line x1="559.5" y1="271.9" x2="597.5" y2="251.3" stroke-width="0.6"/>
<path d="M369,318.5 C368,315 372,312.5 375,312 L386.5,312.3 L394.3,318.3 L430.5,348.5 C433,352 431,357 426.5,357.5 C424,358 421,357.5 419.5,356.5 L370,326 C367,324 366.5,321 369,318.5 Z" fill="#fff"/>
<line x1="395.5" y1="319.3" x2="431.4" y2="347.6" stroke-width="0.6"/>
<ellipse cx="368.3" cy="322.9" rx="1.8" ry="2.6" transform="rotate(-10.0 368.3 322.9)" stroke-width="1.0"/>
<ellipse cx="377.5" cy="322.9" rx="1.8" ry="2.6" transform="rotate(-10.0 377.5 322.9)" stroke-width="1.0"/>
<ellipse cx="386.7" cy="328.9" rx="1.8" ry="2.6" transform="rotate(-10.0 386.7 328.9)" stroke-width="1.0"/>
<ellipse cx="397.5" cy="334.8" rx="1.8" ry="2.6" transform="rotate(-10.0 397.5 334.8)" stroke-width="1.0"/>
<ellipse cx="407.9" cy="343.0" rx="1.7" ry="2.6" transform="rotate(-10.0 407.9 343.0)" stroke-width="1.0"/>
<ellipse cx="416.5" cy="351.7" rx="1.7" ry="2.6" transform="rotate(-10.0 416.5 351.7)" stroke-width="1.0"/>
<ellipse cx="423.1" cy="350.0" rx="1.7" ry="2.6" transform="rotate(-10.0 423.1 350.0)" stroke-width="1.0"/>
<circle cx="387.6" cy="320.6" r="0.9" stroke-width="0.5"/>
<circle cx="393.0" cy="322.8" r="0.9" stroke-width="0.5"/>
<path d="M356,337 L358.5,334 L371,331 L373,334.5 L361,340.5 Z" fill="#fff" stroke-width="0.7"/>
<ellipse cx="357.5" cy="338.6" rx="2.6" ry="3.0" transform="rotate(-25.0 357.5 338.6)" stroke-width="1.6"/>
<ellipse cx="360.5" cy="338.2" rx="1.6" ry="2.2" transform="rotate(-25.0 360.5 338.2)" stroke-width="1.1"/>
<line x1="364.0" y1="337.0" x2="373.0" y2="334.0" stroke-width="0.6"/>
<path d="M550.8,211 C554,209.5 559,209.3 563,210 L571.5,216.4 L605.7,243.5 C609,247 609,252 605,255.5 C602,258 597,258 594.5,255.5 L553,225.5 C550,223 549,214 550.8,211 Z" fill="#fff"/>
<line x1="572.7" y1="217.9" x2="606.9" y2="245.9" stroke-width="0.6"/>
<ellipse cx="554.4" cy="220.9" rx="1.7" ry="2.6" transform="rotate(-10.0 554.4 220.9)" stroke-width="1.0"/>
<ellipse cx="563.6" cy="225.8" rx="1.7" ry="2.6" transform="rotate(-10.0 563.6 225.8)" stroke-width="1.0"/>
<ellipse cx="574.6" cy="232.5" rx="1.7" ry="2.6" transform="rotate(-10.0 574.6 232.5)" stroke-width="1.0"/>
<ellipse cx="585.0" cy="241.0" rx="1.7" ry="2.6" transform="rotate(-10.0 585.0 241.0)" stroke-width="1.0"/>
<ellipse cx="594.1" cy="250.2" rx="1.7" ry="2.6" transform="rotate(-10.0 594.1 250.2)" stroke-width="1.0"/>
<ellipse cx="600.2" cy="247.8" rx="1.7" ry="2.6" transform="rotate(-10.0 600.2 247.8)" stroke-width="1.0"/>
<circle cx="564.8" cy="217.9" r="0.9" stroke-width="0.5"/>
<circle cx="569.7" cy="220.3" r="0.9" stroke-width="0.5"/>
<path d="M579,209.5 L585,205.5 L587,209.5 L581,213 Z" fill="#fff" stroke-width="0.6"/>
<ellipse cx="587.7" cy="204.5" rx="2.6" ry="3.3" transform="rotate(-30.0 587.7 204.5)" stroke-width="0.8" fill="#fff"/>
<ellipse cx="587.5" cy="204.8" rx="1.2" ry="1.6" transform="rotate(-30.0 587.5 204.8)" stroke-width="0.7"/>
<path d="M583,212.5 L590,208.5 L592,212.5 L585,216 Z" fill="#fff" stroke-width="0.6"/>
<ellipse cx="592.8" cy="207.6" rx="2.6" ry="3.3" transform="rotate(-30.0 592.8 207.6)" stroke-width="0.8" fill="#fff"/>
<ellipse cx="592.6" cy="207.9" rx="1.2" ry="1.6" transform="rotate(-30.0 592.6 207.9)" stroke-width="0.7"/>
<line x1="573.0" y1="214.0" x2="581.0" y2="210.0" stroke-width="0.5"/>
<line x1="576.0" y1="218.0" x2="585.0" y2="214.0" stroke-width="0.5"/>
<line x1="604.8" y1="155.0" x2="667.4" y2="116.5" stroke-width="3.2" stroke="#111"/>
<line x1="604.8" y1="155.0" x2="666.9" y2="116.8" stroke-width="0.9" stroke="#bbb"/>
<line x1="604.3" y1="173.0" x2="667.4" y2="139.8" stroke-width="3.2" stroke="#111"/>
<line x1="604.3" y1="173.0" x2="666.9" y2="140.1" stroke-width="0.9" stroke="#bbb"/>
<circle cx="603.3" cy="156.2" r="2.9" stroke-width="0.8" fill="#fff"/>
<circle cx="602.8" cy="173.8" r="2.9" stroke-width="0.8" fill="#fff"/>
<path d="M601,154 A2.9,2.9 0 0 1 605.5,154.5" stroke-width="1.6"/>
<line x1="388.7" y1="546.5" x2="388.7" y2="606.2" stroke-width="1.3"/>
<line x1="393.3" y1="544.5" x2="393.3" y2="609.6" stroke-width="1.3"/>
<line x1="388.7" y1="606.2" x2="424.4" y2="587.6" stroke-width="0.6"/>
<line x1="393.3" y1="609.6" x2="424.4" y2="593.5" stroke-width="0.6"/>
<polyline points="412.0,490.0 417.5,539.5 525.0,482.5 525.0,473.5" stroke-width="0.6"/>
<line x1="377.0" y1="529.5" x2="556.0" y2="429.0" stroke-width="0.6"/>
<line x1="390.0" y1="549.0" x2="570.0" y2="452.0" stroke-width="0.6"/>
<line x1="402.5" y1="485.5" x2="490.0" y2="435.2" stroke-width="0.6"/>
<ellipse cx="517.5" cy="431.8" rx="2.4" ry="6.0" transform="rotate(-15.6 517.5 431.8)" fill="#fff" stroke-width="1.0"/>
<path d="M0,-5.1 A1.9,5.1 0 0 1 0,5.1" transform="translate(516.7 432.3) rotate(-15.6)" stroke-width="0.8" stroke="#333"/>
<ellipse cx="513.3" cy="434.2" rx="2.4" ry="6.0" transform="rotate(-15.6 513.3 434.2)" fill="#fff" stroke-width="1.0"/>
<path d="M0,-5.1 A1.9,5.1 0 0 1 0,5.1" transform="translate(512.6 434.7) rotate(-15.6)" stroke-width="0.8" stroke="#333"/>
<ellipse cx="509.2" cy="436.6" rx="2.4" ry="6.0" transform="rotate(-15.6 509.2 436.6)" fill="#fff" stroke-width="1.0"/>
<path d="M0,-5.1 A1.9,5.1 0 0 1 0,5.1" transform="translate(508.4 437.0) rotate(-15.6)" stroke-width="0.8" stroke="#333"/>
<ellipse cx="505.0" cy="439.0" rx="2.4" ry="6.0" transform="rotate(-15.6 505.0 439.0)" fill="#fff" stroke-width="1.0"/>
<path d="M0,-5.1 A1.9,5.1 0 0 1 0,5.1" transform="translate(504.2 439.4) rotate(-15.6)" stroke-width="0.8" stroke="#333"/>
<ellipse cx="500.8" cy="441.3" rx="2.4" ry="6.0" transform="rotate(-15.6 500.8 441.3)" fill="#fff" stroke-width="1.0"/>
<path d="M0,-5.1 A1.9,5.1 0 0 1 0,5.1" transform="translate(500.0 441.8) rotate(-15.6)" stroke-width="0.8" stroke="#333"/>
<ellipse cx="496.6" cy="443.7" rx="2.4" ry="6.0" transform="rotate(-15.6 496.6 443.7)" fill="#fff" stroke-width="1.0"/>
<path d="M0,-5.1 A1.9,5.1 0 0 1 0,5.1" transform="translate(495.9 444.1) rotate(-15.6)" stroke-width="0.8" stroke="#333"/>
<ellipse cx="492.5" cy="446.1" rx="2.4" ry="6.0" transform="rotate(-15.6 492.5 446.1)" fill="#fff" stroke-width="1.0"/>
<path d="M0,-5.1 A1.9,5.1 0 0 1 0,5.1" transform="translate(491.7 446.5) rotate(-15.6)" stroke-width="0.8" stroke="#333"/>
<ellipse cx="488.3" cy="448.4" rx="2.4" ry="6.0" transform="rotate(-15.6 488.3 448.4)" fill="#fff" stroke-width="1.0"/>
<path d="M0,-5.1 A1.9,5.1 0 0 1 0,5.1" transform="translate(487.5 448.9) rotate(-15.6)" stroke-width="0.8" stroke="#333"/>
<ellipse cx="484.1" cy="450.8" rx="2.4" ry="6.0" transform="rotate(-15.6 484.1 450.8)" fill="#fff" stroke-width="1.0"/>
<path d="M0,-5.1 A1.9,5.1 0 0 1 0,5.1" transform="translate(483.3 451.3) rotate(-15.6)" stroke-width="0.8" stroke="#333"/>
<ellipse cx="479.9" cy="453.2" rx="2.4" ry="6.0" transform="rotate(-15.6 479.9 453.2)" fill="#fff" stroke-width="1.0"/>
<path d="M0,-5.1 A1.9,5.1 0 0 1 0,5.1" transform="translate(479.2 453.6) rotate(-15.6)" stroke-width="0.8" stroke="#333"/>
<ellipse cx="475.8" cy="455.6" rx="2.4" ry="6.0" transform="rotate(-15.6 475.8 455.6)" fill="#fff" stroke-width="1.0"/>
<path d="M0,-5.1 A1.9,5.1 0 0 1 0,5.1" transform="translate(475.0 456.0) rotate(-15.6)" stroke-width="0.8" stroke="#333"/>
<ellipse cx="471.6" cy="457.9" rx="2.4" ry="6.0" transform="rotate(-15.6 471.6 457.9)" fill="#fff" stroke-width="1.0"/>
<path d="M0,-5.1 A1.9,5.1 0 0 1 0,5.1" transform="translate(470.8 458.4) rotate(-15.6)" stroke-width="0.8" stroke="#333"/>
<ellipse cx="467.4" cy="460.3" rx="2.4" ry="6.0" transform="rotate(-15.6 467.4 460.3)" fill="#fff" stroke-width="1.0"/>
<path d="M0,-5.1 A1.9,5.1 0 0 1 0,5.1" transform="translate(466.6 460.7) rotate(-15.6)" stroke-width="0.8" stroke="#333"/>
<ellipse cx="463.3" cy="462.7" rx="2.4" ry="6.0" transform="rotate(-15.6 463.3 462.7)" fill="#fff" stroke-width="1.0"/>
<path d="M0,-5.1 A1.9,5.1 0 0 1 0,5.1" transform="translate(462.5 463.1) rotate(-15.6)" stroke-width="0.8" stroke="#333"/>
<ellipse cx="459.1" cy="465.0" rx="2.4" ry="6.0" transform="rotate(-15.6 459.1 465.0)" fill="#fff" stroke-width="1.0"/>
<path d="M0,-5.1 A1.9,5.1 0 0 1 0,5.1" transform="translate(458.3 465.5) rotate(-15.6)" stroke-width="0.8" stroke="#333"/>
<ellipse cx="454.9" cy="467.4" rx="2.4" ry="6.0" transform="rotate(-15.6 454.9 467.4)" fill="#fff" stroke-width="1.0"/>
<path d="M0,-5.1 A1.9,5.1 0 0 1 0,5.1" transform="translate(454.1 467.9) rotate(-15.6)" stroke-width="0.8" stroke="#333"/>
<ellipse cx="450.7" cy="469.8" rx="2.4" ry="6.0" transform="rotate(-15.6 450.7 469.8)" fill="#fff" stroke-width="1.0"/>
<path d="M0,-5.1 A1.9,5.1 0 0 1 0,5.1" transform="translate(450.0 470.2) rotate(-15.6)" stroke-width="0.8" stroke="#333"/>
<ellipse cx="446.6" cy="472.2" rx="2.4" ry="6.0" transform="rotate(-15.6 446.6 472.2)" fill="#fff" stroke-width="1.0"/>
<path d="M0,-5.1 A1.9,5.1 0 0 1 0,5.1" transform="translate(445.8 472.6) rotate(-15.6)" stroke-width="0.8" stroke="#333"/>
<ellipse cx="442.4" cy="474.5" rx="2.4" ry="6.0" transform="rotate(-15.6 442.4 474.5)" fill="#fff" stroke-width="1.0"/>
<path d="M0,-5.1 A1.9,5.1 0 0 1 0,5.1" transform="translate(441.6 475.0) rotate(-15.6)" stroke-width="0.8" stroke="#333"/>
<ellipse cx="438.2" cy="476.9" rx="2.4" ry="6.0" transform="rotate(-15.6 438.2 476.9)" fill="#fff" stroke-width="1.0"/>
<path d="M0,-5.1 A1.9,5.1 0 0 1 0,5.1" transform="translate(437.4 477.3) rotate(-15.6)" stroke-width="0.8" stroke="#333"/>
<ellipse cx="434.0" cy="479.3" rx="2.4" ry="6.0" transform="rotate(-15.6 434.0 479.3)" fill="#fff" stroke-width="1.0"/>
<path d="M0,-5.1 A1.9,5.1 0 0 1 0,5.1" transform="translate(433.3 479.7) rotate(-15.6)" stroke-width="0.8" stroke="#333"/>
<ellipse cx="429.9" cy="481.6" rx="2.4" ry="6.0" transform="rotate(-15.6 429.9 481.6)" fill="#fff" stroke-width="1.0"/>
<path d="M0,-5.1 A1.9,5.1 0 0 1 0,5.1" transform="translate(429.1 482.1) rotate(-15.6)" stroke-width="0.8" stroke="#333"/>
<ellipse cx="425.7" cy="484.0" rx="2.4" ry="6.0" transform="rotate(-15.6 425.7 484.0)" fill="#fff" stroke-width="1.0"/>
<path d="M0,-5.1 A1.9,5.1 0 0 1 0,5.1" transform="translate(424.9 484.5) rotate(-15.6)" stroke-width="0.8" stroke="#333"/>
<ellipse cx="421.5" cy="486.4" rx="2.4" ry="6.0" transform="rotate(-15.6 421.5 486.4)" fill="#fff" stroke-width="1.0"/>
<path d="M0,-5.1 A1.9,5.1 0 0 1 0,5.1" transform="translate(420.7 486.8) rotate(-15.6)" stroke-width="0.8" stroke="#333"/>
<ellipse cx="417.3" cy="488.8" rx="2.4" ry="6.0" transform="rotate(-15.6 417.3 488.8)" fill="#fff" stroke-width="1.0"/>
<path d="M0,-5.1 A1.9,5.1 0 0 1 0,5.1" transform="translate(416.6 489.2) rotate(-15.6)" stroke-width="0.8" stroke="#333"/>
<ellipse cx="413.2" cy="491.1" rx="2.4" ry="6.0" transform="rotate(-15.6 413.2 491.1)" fill="#fff" stroke-width="1.0"/>
<path d="M0,-5.1 A1.9,5.1 0 0 1 0,5.1" transform="translate(412.4 491.6) rotate(-15.6)" stroke-width="0.8" stroke="#333"/>
<ellipse cx="409.0" cy="493.5" rx="2.4" ry="6.0" transform="rotate(-15.6 409.0 493.5)" fill="#fff" stroke-width="1.0"/>
<path d="M0,-5.1 A1.9,5.1 0 0 1 0,5.1" transform="translate(408.2 493.9) rotate(-15.6)" stroke-width="0.8" stroke="#333"/>
<path d="M402,490.5 L408,487.2 L410,492.5 L404,494 Z" fill="#fff" stroke-width="0.6"/>
<path d="M410,494 L416,490.7 L418,496 L412,497.5 Z" fill="#fff" stroke-width="0.6"/>
<line x1="506.0" y1="433.0" x2="508.2" y2="442.5" stroke-width="0.6"/>
<line x1="507.5" y1="432.2" x2="509.7" y2="441.7" stroke-width="0.6"/>
<line x1="508.9" y1="431.4" x2="511.1" y2="440.9" stroke-width="0.6"/>
<line x1="510.4" y1="430.6" x2="512.6" y2="440.1" stroke-width="0.6"/>
<line x1="511.8" y1="429.8" x2="514.0" y2="439.3" stroke-width="0.6"/>
<line x1="513.3" y1="429.0" x2="515.5" y2="438.5" stroke-width="0.6"/>
<line x1="514.8" y1="428.2" x2="517.0" y2="437.7" stroke-width="0.6"/>
<line x1="516.2" y1="427.3" x2="518.4" y2="436.8" stroke-width="0.6"/>
<line x1="517.7" y1="426.5" x2="519.9" y2="436.0" stroke-width="0.6"/>
<line x1="519.2" y1="425.7" x2="521.4" y2="435.2" stroke-width="0.6"/>
<line x1="520.6" y1="424.9" x2="522.8" y2="434.4" stroke-width="0.6"/>
<line x1="522.1" y1="424.1" x2="524.3" y2="433.6" stroke-width="0.6"/>
<line x1="523.5" y1="423.3" x2="525.7" y2="432.8" stroke-width="0.6"/>
<line x1="525.0" y1="422.5" x2="527.2" y2="432.0" stroke-width="0.6"/>
<ellipse cx="526.5" cy="429.0" rx="2.2" ry="4.2" transform="rotate(-29.0 526.5 429.0)" stroke-width="0.7" fill="#fff"/>
<ellipse cx="522.6" cy="434.5" rx="1.8" ry="2.4" transform="rotate(-29.0 522.6 434.5)" stroke-width="0.8"/>
<path d="M404.5,520.5 L411.5,516.5 L415,526.5 L408,530.5 Z" fill="#fff" stroke-width="0.7"/>
<ellipse cx="495.5" cy="476.3" rx="3.0" ry="8.6" transform="rotate(-18.0 495.5 476.3)" fill="#fff" stroke-width="1.0"/>
<path d="M0,-7.3 A2.4,7.3 0 0 1 0,7.3" transform="translate(494.7 476.7) rotate(-18.0)" stroke-width="0.8" stroke="#333"/>
<ellipse cx="491.7" cy="478.5" rx="3.0" ry="8.6" transform="rotate(-18.0 491.7 478.5)" fill="#fff" stroke-width="1.0"/>
<path d="M0,-7.3 A2.4,7.3 0 0 1 0,7.3" transform="translate(490.9 478.9) rotate(-18.0)" stroke-width="0.8" stroke="#333"/>
<ellipse cx="487.9" cy="480.7" rx="3.0" ry="8.6" transform="rotate(-18.0 487.9 480.7)" fill="#fff" stroke-width="1.0"/>
<path d="M0,-7.3 A2.4,7.3 0 0 1 0,7.3" transform="translate(487.1 481.1) rotate(-18.0)" stroke-width="0.8" stroke="#333"/>
<ellipse cx="484.1" cy="482.9" rx="3.0" ry="8.6" transform="rotate(-18.0 484.1 482.9)" fill="#fff" stroke-width="1.0"/>
<path d="M0,-7.3 A2.4,7.3 0 0 1 0,7.3" transform="translate(483.3 483.3) rotate(-18.0)" stroke-width="0.8" stroke="#333"/>
<ellipse cx="480.3" cy="485.1" rx="3.0" ry="8.6" transform="rotate(-18.0 480.3 485.1)" fill="#fff" stroke-width="1.0"/>
<path d="M0,-7.3 A2.4,7.3 0 0 1 0,7.3" transform="translate(479.5 485.5) rotate(-18.0)" stroke-width="0.8" stroke="#333"/>
<ellipse cx="476.5" cy="487.3" rx="3.0" ry="8.6" transform="rotate(-18.0 476.5 487.3)" fill="#fff" stroke-width="1.0"/>
<path d="M0,-7.3 A2.4,7.3 0 0 1 0,7.3" transform="translate(475.7 487.7) rotate(-18.0)" stroke-width="0.8" stroke="#333"/>
<ellipse cx="472.7" cy="489.5" rx="3.0" ry="8.6" transform="rotate(-18.0 472.7 489.5)" fill="#fff" stroke-width="1.0"/>
<path d="M0,-7.3 A2.4,7.3 0 0 1 0,7.3" transform="translate(471.9 489.9) rotate(-18.0)" stroke-width="0.8" stroke="#333"/>
<ellipse cx="468.8" cy="491.7" rx="3.0" ry="8.6" transform="rotate(-18.0 468.8 491.7)" fill="#fff" stroke-width="1.0"/>
<path d="M0,-7.3 A2.4,7.3 0 0 1 0,7.3" transform="translate(468.1 492.1) rotate(-18.0)" stroke-width="0.8" stroke="#333"/>
<ellipse cx="465.0" cy="493.9" rx="3.0" ry="8.6" transform="rotate(-18.0 465.0 493.9)" fill="#fff" stroke-width="1.0"/>
<path d="M0,-7.3 A2.4,7.3 0 0 1 0,7.3" transform="translate(464.3 494.3) rotate(-18.0)" stroke-width="0.8" stroke="#333"/>
<ellipse cx="461.2" cy="496.1" rx="3.0" ry="8.6" transform="rotate(-18.0 461.2 496.1)" fill="#fff" stroke-width="1.0"/>
<path d="M0,-7.3 A2.4,7.3 0 0 1 0,7.3" transform="translate(460.4 496.5) rotate(-18.0)" stroke-width="0.8" stroke="#333"/>
<ellipse cx="457.4" cy="498.3" rx="3.0" ry="8.6" transform="rotate(-18.0 457.4 498.3)" fill="#fff" stroke-width="1.0"/>
<path d="M0,-7.3 A2.4,7.3 0 0 1 0,7.3" transform="translate(456.6 498.7) rotate(-18.0)" stroke-width="0.8" stroke="#333"/>
<ellipse cx="453.6" cy="500.5" rx="3.0" ry="8.6" transform="rotate(-18.0 453.6 500.5)" fill="#fff" stroke-width="1.0"/>
<path d="M0,-7.3 A2.4,7.3 0 0 1 0,7.3" transform="translate(452.8 500.9) rotate(-18.0)" stroke-width="0.8" stroke="#333"/>
<ellipse cx="449.8" cy="502.7" rx="3.0" ry="8.6" transform="rotate(-18.0 449.8 502.7)" fill="#fff" stroke-width="1.0"/>
<path d="M0,-7.3 A2.4,7.3 0 0 1 0,7.3" transform="translate(449.0 503.1) rotate(-18.0)" stroke-width="0.8" stroke="#333"/>
<ellipse cx="446.0" cy="504.9" rx="3.0" ry="8.6" transform="rotate(-18.0 446.0 504.9)" fill="#fff" stroke-width="1.0"/>
<path d="M0,-7.3 A2.4,7.3 0 0 1 0,7.3" transform="translate(445.2 505.3) rotate(-18.0)" stroke-width="0.8" stroke="#333"/>
<ellipse cx="442.2" cy="507.1" rx="3.0" ry="8.6" transform="rotate(-18.0 442.2 507.1)" fill="#fff" stroke-width="1.0"/>
<path d="M0,-7.3 A2.4,7.3 0 0 1 0,7.3" transform="translate(441.4 507.5) rotate(-18.0)" stroke-width="0.8" stroke="#333"/>
<ellipse cx="438.4" cy="509.3" rx="3.0" ry="8.6" transform="rotate(-18.0 438.4 509.3)" fill="#fff" stroke-width="1.0"/>
<path d="M0,-7.3 A2.4,7.3 0 0 1 0,7.3" transform="translate(437.6 509.7) rotate(-18.0)" stroke-width="0.8" stroke="#333"/>
<ellipse cx="434.6" cy="511.5" rx="3.0" ry="8.6" transform="rotate(-18.0 434.6 511.5)" fill="#fff" stroke-width="1.0"/>
<path d="M0,-7.3 A2.4,7.3 0 0 1 0,7.3" transform="translate(433.8 511.9) rotate(-18.0)" stroke-width="0.8" stroke="#333"/>
<ellipse cx="430.7" cy="513.7" rx="3.0" ry="8.6" transform="rotate(-18.0 430.7 513.7)" fill="#fff" stroke-width="1.0"/>
<path d="M0,-7.3 A2.4,7.3 0 0 1 0,7.3" transform="translate(430.0 514.1) rotate(-18.0)" stroke-width="0.8" stroke="#333"/>
<ellipse cx="426.9" cy="515.9" rx="3.0" ry="8.6" transform="rotate(-18.0 426.9 515.9)" fill="#fff" stroke-width="1.0"/>
<path d="M0,-7.3 A2.4,7.3 0 0 1 0,7.3" transform="translate(426.2 516.3) rotate(-18.0)" stroke-width="0.8" stroke="#333"/>
<ellipse cx="423.1" cy="518.1" rx="3.0" ry="8.6" transform="rotate(-18.0 423.1 518.1)" fill="#fff" stroke-width="1.0"/>
<path d="M0,-7.3 A2.4,7.3 0 0 1 0,7.3" transform="translate(422.3 518.5) rotate(-18.0)" stroke-width="0.8" stroke="#333"/>
<ellipse cx="419.3" cy="520.3" rx="3.0" ry="8.6" transform="rotate(-18.0 419.3 520.3)" fill="#fff" stroke-width="1.0"/>
<path d="M0,-7.3 A2.4,7.3 0 0 1 0,7.3" transform="translate(418.5 520.7) rotate(-18.0)" stroke-width="0.8" stroke="#333"/>
<ellipse cx="415.5" cy="522.5" rx="3.0" ry="8.6" transform="rotate(-18.0 415.5 522.5)" fill="#fff" stroke-width="1.0"/>
<path d="M0,-7.3 A2.4,7.3 0 0 1 0,7.3" transform="translate(414.7 523.0) rotate(-18.0)" stroke-width="0.8" stroke="#333"/>
<ellipse cx="498.5" cy="475.0" rx="3.2" ry="8.8" transform="rotate(-29.5 498.5 475.0)" stroke-width="0.8" fill="#fff"/>
<ellipse cx="399.8" cy="530.0" rx="5.0" ry="7.0" transform="rotate(-20.0 399.8 530.0)" stroke-width="0.9" fill="#fff"/>
<ellipse cx="400.8" cy="529.6" rx="3.2" ry="4.8" transform="rotate(-20.0 400.8 529.6)" stroke-width="0.7"/>
<ellipse cx="401.0" cy="529.5" rx="1.2" ry="1.8" transform="rotate(-20.0 401.0 529.5)" stroke-width="0.6"/>
<ellipse cx="384.5" cy="537.5" rx="6.8" ry="7.8" transform="rotate(-20.0 384.5 537.5)" stroke-width="0.8" fill="#fff"/>
<ellipse cx="382.5" cy="539.0" rx="3.0" ry="3.6" transform="rotate(-20.0 382.5 539.0)" stroke-width="0.7"/>
<polygon points="462.0,498.0 488.0,484.0 490.0,487.0 464.0,501.0" stroke-width="0.5"/>
<rect x="375.0" y="503.8" width="15.0" height="7.5" rx="3.8" transform="rotate(32 382.5 507.5)" stroke-width="1.1" fill="#fff"/>
<rect x="376.6" y="505.4" width="11.8" height="4.3" rx="2.1" transform="rotate(32 382.5 507.5)" stroke-width="0.7"/>
<rect x="387.5" y="497.2" width="15.0" height="7.5" rx="3.8" transform="rotate(32 395.0 501.0)" stroke-width="1.1" fill="#fff"/>
<rect x="389.1" y="498.9" width="11.8" height="4.3" rx="2.1" transform="rotate(32 395.0 501.0)" stroke-width="0.7"/>
<rect x="525.5" y="416.8" width="15.0" height="7.5" rx="3.8" transform="rotate(32 533.0 420.5)" stroke-width="1.1" fill="#fff"/>
<rect x="527.1" y="418.4" width="11.8" height="4.3" rx="2.1" transform="rotate(32 533.0 420.5)" stroke-width="0.7"/>
<rect x="537.5" y="410.2" width="15.0" height="7.5" rx="3.8" transform="rotate(32 545.0 414.0)" stroke-width="1.1" fill="#fff"/>
<rect x="539.1" y="411.9" width="11.8" height="4.3" rx="2.1" transform="rotate(32 545.0 414.0)" stroke-width="0.7"/>
<ellipse cx="516.2" cy="462.6" rx="4.5" ry="6.5" transform="rotate(-20.0 516.2 462.6)" stroke-width="0.8" fill="#fff"/>
<ellipse cx="515.8" cy="463.0" rx="1.8" ry="2.4" transform="rotate(-20.0 515.8 463.0)" stroke-width="0.7"/>
<path d="M517,456.5 L521.5,458 L523,469 L519,469.5" stroke-width="0.7"/>
<ellipse cx="536.8" cy="449.5" rx="6.5" ry="7.5" transform="rotate(-20.0 536.8 449.5)" stroke-width="0.8" fill="#fff"/>
<ellipse cx="536.5" cy="449.8" rx="4.8" ry="5.8" transform="rotate(-20.0 536.5 449.8)" stroke-width="0.7"/>
<ellipse cx="536.3" cy="450.0" rx="1.2" ry="1.5" transform="rotate(0.0 536.3 450.0)" stroke-width="0.6"/>
<line x1="533.0" y1="446.0" x2="533.5" y2="454.0" stroke-width="1.2"/>
<line x1="540.0" y1="451.0" x2="540.2" y2="455.0" stroke-width="1.0"/>
<line x1="543.0" y1="446.0" x2="549.0" y2="444.0" stroke-width="0.7"/>
<line x1="541.0" y1="455.0" x2="551.0" y2="452.0" stroke-width="0.7"/>
<line x1="468.0" y1="492.0" x2="527.0" y2="502.5" stroke-width="0.5"/>
<ellipse cx="513.6" cy="499.6" rx="6.4" ry="7.8" transform="rotate(-20.0 513.6 499.6)" stroke-width="0.7" fill="#fff"/>
<ellipse cx="513.3" cy="499.9" rx="2.5" ry="2.9" transform="rotate(-20.0 513.3 499.9)" stroke-width="0.6"/>
<line x1="507.0" y1="497.5" x2="527.0" y2="502.5" stroke-width="0.5"/>
<path d="M527.5,500.2 L550,506 L549.5,512.4 L527,506.6 C525.8,505 526,501.5 527.5,500.2 Z" fill="#fff" stroke-width="0.7" stroke="#333"/>
<path d="M550,505.5 L560,507.8 L560,516 L549.5,512.6 Z" fill="#fff" stroke-width="0.7" stroke="#333"/>
<ellipse cx="564.3" cy="512.6" rx="4.0" ry="4.6" transform="rotate(-20.0 564.3 512.6)" stroke-width="0.7" fill="#fff"/>
<ellipse cx="565.0" cy="512.8" rx="1.8" ry="2.3" transform="rotate(0.0 565.0 512.8)" stroke-width="0.9"/>
<line x1="564.5" y1="511.2" x2="564.5" y2="514.4" stroke-width="0.8"/>
<line x1="500.0" y1="446.0" x2="560.0" y2="416.0" stroke-width="0.6"/>
<line x1="505.0" y1="455.0" x2="565.0" y2="425.0" stroke-width="0.6"/>
<line x1="524.0" y1="473.0" x2="560.0" y2="455.0" stroke-width="0.6"/>
<line x1="545.0" y1="440.0" x2="559.0" y2="432.0" stroke-width="0.6"/>
<path d="M556,421 L564.6,414.5 L564.6,410 L597.6,425.2 C600,421 605,419.5 608.5,422 C610.5,423.5 610.8,425 610.8,427 L610.8,482 C610.8,484 608.5,484.5 607,483.5 L558.6,459 Z" fill="#fff" stroke-width="0.7"/>
<line x1="609.3" y1="427.0" x2="609.3" y2="483.0" stroke-width="0.9"/>
<line x1="611.6" y1="427.0" x2="611.6" y2="482.5" stroke-width="1.0"/>
<ellipse cx="559.5" cy="437.0" rx="5.8" ry="6.6" transform="rotate(-20.0 559.5 437.0)" stroke-width="0.8" fill="#fff"/>
<ellipse cx="559.3" cy="437.5" rx="3.5" ry="4.2" transform="rotate(-20.0 559.3 437.5)" stroke-width="0.6"/>
<ellipse cx="559.2" cy="437.6" rx="1.2" ry="1.4" transform="rotate(0.0 559.2 437.6)" stroke-width="0.6"/>
<ellipse cx="580.7" cy="425.2" rx="1.5" ry="2.0" transform="rotate(-20.0 580.7 425.2)" stroke-width="0.7"/>
<ellipse cx="573.0" cy="447.2" rx="2.4" ry="3.4" transform="rotate(-25.0 573.0 447.2)" stroke-width="0.8"/>
<ellipse cx="604.4" cy="448.0" rx="1.6" ry="2.6" transform="rotate(-25.0 604.4 448.0)" stroke-width="0.7"/>
<circle cx="572.2" cy="438.7" r="1.1" stroke-width="0.6"/>
<circle cx="567.1" cy="425.2" r="0.9" stroke-width="0.5"/>
<circle cx="585.0" cy="428.0" r="0.8" stroke-width="0.5"/>
<line x1="566.0" y1="413.5" x2="597.0" y2="428.5" stroke-width="0.6"/>
<path d="M582.5,407.5 L590,403.5 L592,407.5 L584.5,411.5 Z" fill="#fff" stroke-width="0.7"/>
<ellipse cx="583.5" cy="409.6" rx="1.6" ry="2.5" transform="rotate(-25.0 583.5 409.6)" stroke-width="1.0" fill="#fff"/>
<ellipse cx="591.0" cy="405.5" rx="1.6" ry="2.5" transform="rotate(-25.0 591.0 405.5)" stroke-width="0.8"/>
<line x1="570.0" y1="414.0" x2="583.0" y2="408.0" stroke-width="0.6"/>
<line x1="592.0" y1="405.0" x2="605.0" y2="398.5" stroke-width="0.6"/>
<ellipse cx="589.6" cy="433.0" rx="2.2" ry="2.6" transform="rotate(-30.0 589.6 433.0)" stroke-width="1.2"/>
<line x1="588.0" y1="431.0" x2="591.0" y2="435.5" stroke-width="1.0"/>
<path d="M587.3,379 C587,377.5 588.5,376 590.5,376 L593.5,376.5 L599.5,384.5 C600.5,386 601.5,386.5 601.5,385 L599.5,380.5 L601.5,378.8 L608,380.2 L612.2,382.6 L615.6,391.4 L616.2,403.5 L613.5,406.1 L610.4,405.3 L606.2,401.9 L598.5,396.5 L596.5,394 L593.6,390.4 L590.5,386.2 L588.9,384.1 C590.5,383 591.5,382 589,380.5 Z" fill="#fff" stroke-width="0.7"/>
<line x1="611.4" y1="383.5" x2="614.6" y2="404.0" stroke-width="0.6"/>
<line x1="592.0" y1="378.5" x2="599.5" y2="388.0" stroke-width="0.6"/>
<circle cx="608.3" cy="391.4" r="1.0" stroke-width="0.6"/>
<circle cx="608.3" cy="401.9" r="1.0" stroke-width="0.6"/>
<circle cx="596.8" cy="395.1" r="0.9" stroke-width="0.5"/>
<line x1="580.0" y1="406.0" x2="608.3" y2="391.4" stroke-width="0.5"/>
<line x1="580.0" y1="413.5" x2="608.3" y2="401.9" stroke-width="0.5"/>
<path d="M623,378 L630,375 L631.5,381 L624.5,384 Z" fill="#fff" stroke-width="0.7"/>
<ellipse cx="632.0" cy="377.5" rx="2.0" ry="3.0" transform="rotate(-25.0 632.0 377.5)" stroke-width="0.9" fill="#fff"/>
<line x1="634.0" y1="376.5" x2="641.0" y2="373.0" stroke-width="0.7"/>
<line x1="634.5" y1="381.0" x2="641.5" y2="377.5" stroke-width="0.7"/>
<ellipse cx="641.5" cy="375.4" rx="2.0" ry="2.6" transform="rotate(-25.0 641.5 375.4)" stroke-width="0.9" fill="#fff"/>
<ellipse cx="641.3" cy="375.5" rx="0.9" ry="1.3" transform="rotate(-25.0 641.3 375.5)" stroke-width="0.6"/>
<path d="M634,385 L639.5,382.5 L640.8,387.5 L635,389.5 Z" fill="#fff" stroke-width="0.7"/>
<ellipse cx="642.0" cy="384.4" rx="2.0" ry="2.6" transform="rotate(-25.0 642.0 384.4)" stroke-width="0.9" fill="#fff"/>
<ellipse cx="641.8" cy="384.5" rx="0.9" ry="1.3" transform="rotate(-25.0 641.8 384.5)" stroke-width="0.6"/>
<path d="M650,385.5 L657,382 L660,387 L652,391 Z" fill="#fff" stroke-width="0.7"/>
<ellipse cx="656.0" cy="383.6" rx="2.2" ry="3.2" transform="rotate(-25.0 656.0 383.6)" stroke-width="0.9" fill="#fff"/>
<ellipse cx="661.5" cy="386.6" rx="2.4" ry="3.2" transform="rotate(-25.0 661.5 386.6)" stroke-width="0.9" fill="#fff"/>
<line x1="615.0" y1="388.0" x2="650.0" y2="372.0" stroke-width="0.6"/>
<line x1="616.0" y1="392.0" x2="640.0" y2="380.0" stroke-width="0.6"/>
<line x1="617.0" y1="398.0" x2="652.0" y2="382.0" stroke-width="0.6"/>
<path d="M633,405 L642,400 L644,405 L635,410 Z" fill="#fff" stroke-width="0.7"/>
<ellipse cx="645.0" cy="400.9" rx="2.5" ry="3.4" transform="rotate(-25.0 645.0 400.9)" stroke-width="0.9" fill="#fff"/>
<ellipse cx="644.8" cy="401.0" rx="1.2" ry="1.8" transform="rotate(-25.0 644.8 401.0)" stroke-width="0.7"/>
<line x1="613.0" y1="414.0" x2="633.0" y2="404.0" stroke-width="0.6"/>
<line x1="614.0" y1="420.0" x2="635.0" y2="410.0" stroke-width="0.6"/>
<ellipse cx="620.0" cy="417.0" rx="2.0" ry="3.0" transform="rotate(-25.0 620.0 417.0)" stroke-width="0.9" fill="#fff"/>
<path d="M619,414 L626,410.5 L628,416 L621,420 Z" fill="#fff" stroke-width="0.7"/>
<line x1="600.0" y1="424.0" x2="660.0" y2="395.0" stroke-width="0.6"/>
<line x1="606.0" y1="431.0" x2="680.0" y2="394.0" stroke-width="0.6"/>
<path d="M561.5,527.2 L602.6,502.9 L605,500.5 L610.1,503.2 L610.3,518.5 L571.5,542.3 L564,542.3 C562,541.5 561.5,540 561.5,538 Z" fill="#fff" stroke-width="0.7"/>
<line x1="566.0" y1="528.0" x2="566.0" y2="541.5" stroke-width="0.6"/>
<line x1="602.6" y1="502.9" x2="605.0" y2="517.0" stroke-width="0.6"/>
<line x1="566.0" y1="528.0" x2="604.5" y2="505.0" stroke-width="0.6"/>
<rect x="574" y="519.5" width="27" height="6" rx="3" transform="rotate(-30 587.5 522.5)" stroke-width="0.8"/>
<circle cx="564.5" cy="533.5" r="1.2" stroke-width="0.6"/>
<circle cx="607.0" cy="506.8" r="1.2" stroke-width="0.6"/>
<circle cx="585.8" cy="539.5" r="2.3" stroke-width="0.8" fill="#fff"/>
<circle cx="585.8" cy="539.5" r="1.0" stroke-width="1.1"/>
<circle cx="623.4" cy="516.3" r="2.3" stroke-width="0.8" fill="#fff"/>
<circle cx="623.4" cy="516.3" r="1.0" stroke-width="1.1"/>
<line x1="566.0" y1="534.0" x2="584.0" y2="539.0" stroke-width="0.5"/>
<line x1="608.0" y1="508.0" x2="622.0" y2="515.0" stroke-width="0.5"/>
<polygon points="627.6,550.9 718.2,500.5 718.2,510.6 627.6,564.3" stroke-width="0.7" fill="#fff"/>
<line x1="629.0" y1="552.0" x2="629.0" y2="563.5" stroke-width="0.6"/>
<ellipse cx="631.5" cy="555.5" rx="1.2" ry="1.8" transform="rotate(0.0 631.5 555.5)" stroke-width="0.6"/>
<ellipse cx="715.0" cy="505.5" rx="1.2" ry="1.8" transform="rotate(0.0 715.0 505.5)" stroke-width="0.6"/>
<line x1="624.5" y1="535.3" x2="626.8" y2="549.5" stroke-width="1.5" stroke="#aaa"/>
<line x1="624.5" y1="535.3" x2="626.8" y2="549.5" stroke-width="0.6" stroke="#666"/>
<line x1="628.2" y1="533.2" x2="630.5" y2="547.4" stroke-width="1.5" stroke="#aaa"/>
<line x1="628.2" y1="533.2" x2="630.5" y2="547.4" stroke-width="0.6" stroke="#666"/>
<line x1="631.9" y1="531.1" x2="634.2" y2="545.3" stroke-width="1.5" stroke="#aaa"/>
<line x1="631.9" y1="531.1" x2="634.2" y2="545.3" stroke-width="0.6" stroke="#666"/>
<line x1="635.6" y1="528.9" x2="637.9" y2="543.1" stroke-width="1.5" stroke="#aaa"/>
<line x1="635.6" y1="528.9" x2="637.9" y2="543.1" stroke-width="0.6" stroke="#666"/>
<line x1="639.3" y1="526.8" x2="641.6" y2="541.0" stroke-width="1.5" stroke="#aaa"/>
<line x1="639.3" y1="526.8" x2="641.6" y2="541.0" stroke-width="0.6" stroke="#666"/>
<line x1="643.0" y1="524.7" x2="645.3" y2="538.9" stroke-width="1.5" stroke="#aaa"/>
<line x1="643.0" y1="524.7" x2="645.3" y2="538.9" stroke-width="0.6" stroke="#666"/>
<line x1="646.8" y1="522.6" x2="649.0" y2="536.8" stroke-width="1.5" stroke="#aaa"/>
<line x1="646.8" y1="522.6" x2="649.0" y2="536.8" stroke-width="0.6" stroke="#666"/>
<line x1="650.5" y1="520.5" x2="652.8" y2="534.7" stroke-width="1.5" stroke="#aaa"/>
<line x1="650.5" y1="520.5" x2="652.8" y2="534.7" stroke-width="0.6" stroke="#666"/>
<line x1="654.2" y1="518.4" x2="656.5" y2="532.6" stroke-width="1.5" stroke="#aaa"/>
<line x1="654.2" y1="518.4" x2="656.5" y2="532.6" stroke-width="0.6" stroke="#666"/>
<line x1="657.9" y1="516.2" x2="660.2" y2="530.5" stroke-width="1.5" stroke="#aaa"/>
<line x1="657.9" y1="516.2" x2="660.2" y2="530.5" stroke-width="0.6" stroke="#666"/>
<line x1="661.6" y1="514.1" x2="663.9" y2="528.3" stroke-width="1.5" stroke="#aaa"/>
<line x1="661.6" y1="514.1" x2="663.9" y2="528.3" stroke-width="0.6" stroke="#666"/>
<line x1="665.3" y1="512.0" x2="667.6" y2="526.2" stroke-width="1.5" stroke="#aaa"/>
<line x1="665.3" y1="512.0" x2="667.6" y2="526.2" stroke-width="0.6" stroke="#666"/>
<line x1="669.0" y1="509.9" x2="671.3" y2="524.1" stroke-width="1.5" stroke="#aaa"/>
<line x1="669.0" y1="509.9" x2="671.3" y2="524.1" stroke-width="0.6" stroke="#666"/>
<line x1="672.7" y1="507.8" x2="675.0" y2="522.0" stroke-width="1.5" stroke="#aaa"/>
<line x1="672.7" y1="507.8" x2="675.0" y2="522.0" stroke-width="0.6" stroke="#666"/>
<line x1="676.4" y1="505.7" x2="678.7" y2="519.9" stroke-width="1.5" stroke="#aaa"/>
<line x1="676.4" y1="505.7" x2="678.7" y2="519.9" stroke-width="0.6" stroke="#666"/>
<line x1="680.1" y1="503.5" x2="682.4" y2="517.8" stroke-width="1.5" stroke="#aaa"/>
<line x1="680.1" y1="503.5" x2="682.4" y2="517.8" stroke-width="0.6" stroke="#666"/>
<line x1="683.8" y1="501.4" x2="686.1" y2="515.6" stroke-width="1.5" stroke="#aaa"/>
<line x1="683.8" y1="501.4" x2="686.1" y2="515.6" stroke-width="0.6" stroke="#666"/>
<line x1="687.5" y1="499.3" x2="689.8" y2="513.5" stroke-width="1.5" stroke="#aaa"/>
<line x1="687.5" y1="499.3" x2="689.8" y2="513.5" stroke-width="0.6" stroke="#666"/>
<line x1="691.2" y1="497.2" x2="693.5" y2="511.4" stroke-width="1.5" stroke="#aaa"/>
<line x1="691.2" y1="497.2" x2="693.5" y2="511.4" stroke-width="0.6" stroke="#666"/>
<line x1="695.0" y1="495.1" x2="697.3" y2="509.3" stroke-width="1.5" stroke="#aaa"/>
<line x1="695.0" y1="495.1" x2="697.3" y2="509.3" stroke-width="0.6" stroke="#666"/>
<line x1="698.7" y1="493.0" x2="701.0" y2="507.2" stroke-width="1.5" stroke="#aaa"/>
<line x1="698.7" y1="493.0" x2="701.0" y2="507.2" stroke-width="0.6" stroke="#666"/>
<line x1="702.4" y1="490.9" x2="704.7" y2="505.1" stroke-width="1.5" stroke="#aaa"/>
<line x1="702.4" y1="490.9" x2="704.7" y2="505.1" stroke-width="0.6" stroke="#666"/>
<line x1="706.1" y1="488.7" x2="708.4" y2="502.9" stroke-width="1.5" stroke="#aaa"/>
<line x1="706.1" y1="488.7" x2="708.4" y2="502.9" stroke-width="0.6" stroke="#666"/>
<line x1="709.8" y1="486.6" x2="712.1" y2="500.8" stroke-width="1.5" stroke="#aaa"/>
<line x1="709.8" y1="486.6" x2="712.1" y2="500.8" stroke-width="0.6" stroke="#666"/>
<line x1="713.5" y1="484.5" x2="715.8" y2="498.7" stroke-width="1.5" stroke="#aaa"/>
<line x1="713.5" y1="484.5" x2="715.8" y2="498.7" stroke-width="0.6" stroke="#666"/>
<circle cx="651.0" cy="560.3" r="2.2" stroke-width="0.8" fill="#fff"/>
<circle cx="651.0" cy="560.3" r="1.0" stroke-width="1.1"/>
<circle cx="733.9" cy="513.3" r="2.2" stroke-width="0.8" fill="#fff"/>
<circle cx="733.9" cy="513.3" r="1.0" stroke-width="1.1"/>
<line x1="633.0" y1="557.0" x2="649.0" y2="560.0" stroke-width="0.5"/>
<line x1="717.0" y1="507.0" x2="732.0" y2="512.0" stroke-width="0.5"/>
<polygon points="424.4,579.8 526.6,522.0 536.7,527.5 434.5,586.0" stroke-width="0.7"/>
<polygon points="424.4,579.8 424.4,587.6 434.5,593.8 434.5,586.0" stroke-width="0.9"/>
<line x1="434.5" y1="593.8" x2="536.7" y2="535.3" stroke-width="0.7"/>
<line x1="536.7" y1="527.5" x2="536.7" y2="535.3" stroke-width="1.2"/>
<line x1="426.5" y1="584.0" x2="427.5" y2="584.5" stroke-width="0.6"/>
<line x1="430.5" y1="588.5" x2="431.5" y2="589.0" stroke-width="0.6"/>
<ellipse cx="443.1" cy="572.0" rx="1.1" ry="0.9" transform="rotate(0.0 443.1 572.0)" stroke-width="0.6"/>
<ellipse cx="482.1" cy="554.8" rx="1.7" ry="1.4" transform="rotate(0.0 482.1 554.8)" stroke-width="0.6"/>
<ellipse cx="506.3" cy="540.7" rx="1.7" ry="1.4" transform="rotate(0.0 506.3 540.7)" stroke-width="0.6"/>
<ellipse cx="511.8" cy="533.0" rx="1.1" ry="0.9" transform="rotate(0.0 511.8 533.0)" stroke-width="0.6"/>
<polygon points="425.9,609.4 522.7,553.2 533.6,559.5 436.1,614.9" stroke-width="0.7"/>
<line x1="436.1" y1="615.2" x2="533.6" y2="559.8" stroke-width="0.8" stroke="#333"/>
<line x1="444.4" y1="589.1" x2="444.4" y2="603.2" stroke-width="1.2" stroke="#111"/>
<line x1="444.4" y1="611.8" x2="444.4" y2="620.3" stroke-width="1.2" stroke="#111"/>
<circle cx="444.4" cy="604.2" r="0.8" stroke-width="0.5"/>
<line x1="442.4" y1="620.8" x2="442.4" y2="624.3" stroke-width="1.0" stroke="#111"/>
<line x1="446.4" y1="620.8" x2="446.4" y2="624.3" stroke-width="1.0" stroke="#111"/>
<ellipse cx="444.4" cy="626.3" rx="3.6" ry="1.7" fill="#ccc" stroke-width="0.9"/>
<line x1="512.0" y1="550.1" x2="512.0" y2="564.2" stroke-width="1.2" stroke="#111"/>
<line x1="512.0" y1="572.7" x2="512.0" y2="581.5" stroke-width="1.2" stroke="#111"/>
<circle cx="512.0" cy="565.2" r="0.8" stroke-width="0.5"/>
<line x1="510.0" y1="582.0" x2="510.0" y2="585.5" stroke-width="1.0" stroke="#111"/>
<line x1="514.0" y1="582.0" x2="514.0" y2="585.5" stroke-width="1.0" stroke="#111"/>
<ellipse cx="512.0" cy="587.5" rx="3.6" ry="1.7" fill="#ccc" stroke-width="0.9"/>
<path d="M310.9,549.5 L324.4,555.8 L324.4,549 L326.5,549 L355.7,566 L358.4,564 L360,561.5 C362,559.5 366,559.5 368.5,561.5 C370,563 370.5,564.5 370.5,566 L370.5,621 C370.5,623 369,624 367.5,624 L365.2,623.7 L320.4,597.9 Z" fill="#fff" stroke-width="0.7"/>
<line x1="326.5" y1="551.0" x2="355.0" y2="567.5" stroke-width="0.6"/>
<line x1="369.4" y1="566.0" x2="369.4" y2="621.5" stroke-width="0.9"/>
<line x1="371.9" y1="566.5" x2="371.9" y2="621.0" stroke-width="1.0"/>
<line x1="324.4" y1="549.0" x2="324.4" y2="555.8" stroke-width="1.3"/>
<path d="M345.8,587.6 C346.5,597 354,606 364.8,612.3 C366.5,613.2 368,611.8 366.8,610.4 C357,604 350,596 348.6,587.2 C348.3,585.6 345.9,585.8 345.8,587.6 Z" stroke-width="0.7"/>
<ellipse cx="340.0" cy="563.3" rx="1.8" ry="2.5" transform="rotate(-20.0 340.0 563.3)" stroke-width="0.7"/>
<ellipse cx="362.4" cy="563.3" rx="1.8" ry="2.6" transform="rotate(-20.0 362.4 563.3)" stroke-width="0.7"/>
<ellipse cx="364.9" cy="585.7" rx="2.0" ry="3.0" transform="rotate(-20.0 364.9 585.7)" stroke-width="0.7"/>
<ellipse cx="344.8" cy="574.1" rx="3.8" ry="4.4" transform="rotate(-20.0 344.8 574.1)" stroke-width="0.8" fill="#fff"/>
<ellipse cx="344.6" cy="574.4" rx="1.8" ry="2.2" transform="rotate(-20.0 344.6 574.4)" stroke-width="0.7"/>
<path d="M320,584.5 L330.5,578 L334.5,583.5 L324,590 Z" fill="#fff" stroke-width="0.7"/>
<ellipse cx="322.4" cy="587.3" rx="3.0" ry="4.0" transform="rotate(-25.0 322.4 587.3)" stroke-width="0.8" fill="#fff"/>
<ellipse cx="332.4" cy="580.6" rx="2.2" ry="3.3" transform="rotate(-25.0 332.4 580.6)" stroke-width="0.6"/>
<circle cx="327.1" cy="564.6" r="0.9" stroke-width="0.5"/>
<circle cx="327.1" cy="574.8" r="0.9" stroke-width="0.5"/>
<circle cx="315.6" cy="566.0" r="1.0" stroke-width="0.5"/>
<ellipse cx="363.1" cy="550.4" rx="6.5" ry="7.8" transform="rotate(-20.0 363.1 550.4)" stroke-width="0.8" fill="#fff"/>
<ellipse cx="362.8" cy="550.8" rx="2.4" ry="3.0" transform="rotate(-20.0 362.8 550.8)" stroke-width="0.7"/>
<ellipse cx="381.4" cy="539.5" rx="6.5" ry="7.5" transform="rotate(-20.0 381.4 539.5)" stroke-width="0.8" fill="#fff"/>
<ellipse cx="381.2" cy="539.8" rx="2.3" ry="2.8" transform="rotate(-20.0 381.2 539.8)" stroke-width="0.7"/>
<path d="M357,552.5 L369,546" stroke-width="0.6"/>
<circle cx="377.4" cy="579.5" r="2.6" stroke-width="1.6"/>
<circle cx="377.4" cy="579.5" r="1.0" stroke-width="0.6"/>
<circle cx="378.0" cy="555.8" r="2.3" stroke-width="0.8" fill="#fff"/>
<circle cx="378.0" cy="555.8" r="1.0" stroke-width="0.7"/>
<line x1="375.0" y1="553.0" x2="379.0" y2="557.0" stroke-width="1.3"/>
<line x1="270.0" y1="583.0" x2="330.0" y2="551.0" stroke-width="0.6"/>
<line x1="270.0" y1="590.0" x2="330.0" y2="558.0" stroke-width="0.6"/>
<line x1="300.0" y1="597.0" x2="350.0" y2="571.0" stroke-width="0.6"/>
<line x1="325.0" y1="562.0" x2="390.0" y2="528.0" stroke-width="0.6"/>
<line x1="330.0" y1="569.0" x2="395.0" y2="535.0" stroke-width="0.6"/>
<path d="M244.8,579.3 L248.9,574.6 L255.7,577.3 L259.8,576.6 L268.6,580.7 L272,584.8 L274.7,602.4 L269.3,603.7 L263.8,599.7 L255.7,595.6 L251.6,590.2 L246.9,586.1 Z" fill="#fff" stroke-width="0.7"/>
<rect x="250.5" y="581" width="9" height="3.2" rx="1.6" transform="rotate(55 255 582.6)" stroke-width="0.7"/>
<line x1="268.6" y1="580.7" x2="271.5" y2="602.5" stroke-width="0.6"/>
<circle cx="265.5" cy="589.0" r="0.9" stroke-width="0.5"/>
<circle cx="265.5" cy="597.0" r="0.9" stroke-width="0.5"/>
<path d="M235.3,606.4 L243.3,602.4 L242.1,599.8 L234.1,603.8" fill="#fff" stroke-width="0.6"/>
<ellipse cx="234.7" cy="605.1" rx="2.0" ry="2.4" transform="rotate(-25.0 234.7 605.1)" stroke-width="0.9" fill="#fff"/>
<ellipse cx="234.7" cy="605.1" rx="1.0" ry="1.2" transform="rotate(-25.0 234.7 605.1)" stroke-width="0.9"/>
<path d="M246.6,602.9 L254.6,598.4 L253.2,596.0 L245.2,600.5" fill="#fff" stroke-width="0.6"/>
<ellipse cx="245.9" cy="601.7" rx="2.0" ry="2.4" transform="rotate(-25.0 245.9 601.7)" stroke-width="0.9" fill="#fff"/>
<ellipse cx="245.9" cy="601.7" rx="1.0" ry="1.2" transform="rotate(-25.0 245.9 601.7)" stroke-width="0.9"/>
<path d="M246.9,612.4 L255.9,607.4 L254.5,605.0 L245.5,610.0" fill="#fff" stroke-width="0.6"/>
<ellipse cx="246.2" cy="611.2" rx="2.0" ry="2.4" transform="rotate(-25.0 246.2 611.2)" stroke-width="0.9" fill="#fff"/>
<ellipse cx="246.2" cy="611.2" rx="1.0" ry="1.2" transform="rotate(-25.0 246.2 611.2)" stroke-width="0.9"/>
<path d="M286.9,600.2 L295.9,595.2 L294.5,592.8 L285.5,597.8" fill="#fff" stroke-width="0.6"/>
<ellipse cx="286.2" cy="599.0" rx="1.9" ry="2.2" transform="rotate(-25.0 286.2 599.0)" stroke-width="0.9" fill="#fff"/>
<ellipse cx="286.2" cy="599.0" rx="0.9" ry="1.1" transform="rotate(-25.0 286.2 599.0)" stroke-width="0.9"/>
<path d="M292.3,602.9 L301.3,597.9 L299.9,595.5 L290.9,600.5" fill="#fff" stroke-width="0.6"/>
<ellipse cx="291.6" cy="601.7" rx="1.9" ry="2.2" transform="rotate(-25.0 291.6 601.7)" stroke-width="0.9" fill="#fff"/>
<ellipse cx="291.6" cy="601.7" rx="0.9" ry="1.1" transform="rotate(-25.0 291.6 601.7)" stroke-width="0.9"/>
<path d="M299.1,602.2 L308.1,597.2 L306.7,594.8 L297.7,599.8" fill="#fff" stroke-width="0.6"/>
<ellipse cx="298.4" cy="601.0" rx="1.9" ry="2.2" transform="rotate(-25.0 298.4 601.0)" stroke-width="0.9" fill="#fff"/>
<ellipse cx="298.4" cy="601.0" rx="0.9" ry="1.1" transform="rotate(-25.0 298.4 601.0)" stroke-width="0.9"/>
<line x1="276.0" y1="586.0" x2="300.0" y2="574.0" stroke-width="0.5"/>
<line x1="275.0" y1="598.0" x2="288.0" y2="591.0" stroke-width="0.5"/>
<path d="M293,575 L302,571 L304,575.5 L295,580 Z" fill="#fff" stroke-width="0.6"/>
<ellipse cx="293.7" cy="578.0" rx="2.0" ry="2.6" transform="rotate(-25.0 293.7 578.0)" stroke-width="0.9" fill="#fff"/>
<ellipse cx="293.9" cy="578.0" rx="0.9" ry="1.2" transform="rotate(-25.0 293.9 578.0)" stroke-width="0.8"/>
<path d="M331.2,445.4 L333.4,442.5 L342.6,444.3 L349.2,445 L359.5,446.5 L361.7,448.3 L361.3,452 L359.5,457.9 L357.3,461.5 L351.4,463 L348.5,471.1 L336.4,468.2 L336,453.5 Z" fill="#fff" stroke-width="0.7"/>
<line x1="336.0" y1="453.5" x2="345.5" y2="455.0" stroke-width="0.5"/>
<line x1="342.6" y1="444.3" x2="345.5" y2="455.0" stroke-width="0.5"/>
<line x1="345.5" y1="455.0" x2="346.0" y2="470.0" stroke-width="0.5"/>
<line x1="336.5" y1="458.0" x2="346.0" y2="460.0" stroke-width="0.5"/>
<line x1="333.4" y1="442.5" x2="338.0" y2="451.0" stroke-width="0.5"/>
<line x1="338.0" y1="451.0" x2="345.5" y2="455.0" stroke-width="0.5"/>
<line x1="349.2" y1="445.0" x2="352.0" y2="451.0" stroke-width="0.5"/>
<line x1="336.2" y1="462.0" x2="346.5" y2="464.5" stroke-width="0.5"/>
<line x1="346.5" y1="464.5" x2="349.0" y2="470.0" stroke-width="0.5"/>
<path d="M349,449 C352,448 356,448.5 359,451" stroke-width="0.6"/>
<ellipse cx="354.7" cy="456.8" rx="4.0" ry="4.6" transform="rotate(-15.0 354.7 456.8)" stroke-width="0.7" fill="#fff"/>
<ellipse cx="354.5" cy="457.0" rx="1.8" ry="2.0" transform="rotate(-15.0 354.5 457.0)" stroke-width="0.6"/>
<line x1="359.5" y1="457.5" x2="424.7" y2="474.2" stroke-width="0.5"/>
<path d="M301.4,640.6 L308,636.8 L309.5,629.2 L319.9,622.6 L323.7,625.4 L324.7,634 L331.3,646.3 L320.9,654.9 L311.4,647.3 L302.8,644.4 Z" fill="#fff" stroke-width="0.7"/>
<line x1="309.5" y1="629.2" x2="313.0" y2="631.0" stroke-width="0.5"/>
<line x1="313.0" y1="631.0" x2="323.7" y2="625.4" stroke-width="0.5"/>
<line x1="313.0" y1="631.0" x2="320.9" y2="654.9" stroke-width="0.5"/>
<line x1="310.0" y1="642.0" x2="324.0" y2="636.0" stroke-width="0.5"/>
<line x1="310.0" y1="646.5" x2="325.0" y2="640.0" stroke-width="0.5"/>
<ellipse cx="310.0" cy="642.5" rx="3.0" ry="4.0" transform="rotate(-20.0 310.0 642.5)" stroke-width="0.6"/>
<line x1="309.5" y1="629.2" x2="312.0" y2="637.0" stroke-width="0.5"/>
<line x1="319.9" y1="622.6" x2="321.0" y2="631.0" stroke-width="0.5"/>
<line x1="321.0" y1="631.0" x2="324.7" y2="634.0" stroke-width="0.5"/>
<line x1="312.0" y1="637.0" x2="321.0" y2="631.0" stroke-width="0.5"/>
<line x1="313.0" y1="651.0" x2="326.0" y2="643.5" stroke-width="0.5"/>
<line x1="316.0" y1="653.0" x2="321.0" y2="647.0" stroke-width="0.5"/>
<line x1="324.7" y1="634.0" x2="326.0" y2="643.5" stroke-width="0.5"/>
<path d="M325,628 C328,628.5 330,632 329.5,636 C329,639 326.5,640.5 325,639.5" fill="#fff" stroke-width="0.6"/>
<path d="M329,629.5 L334.5,627 L336,631 L330,634 Z" fill="#fff" stroke-width="0.6"/>
<line x1="336.0" y1="629.5" x2="360.0" y2="612.6" stroke-width="0.5"/>
</g>
</svg>
</body></html>
